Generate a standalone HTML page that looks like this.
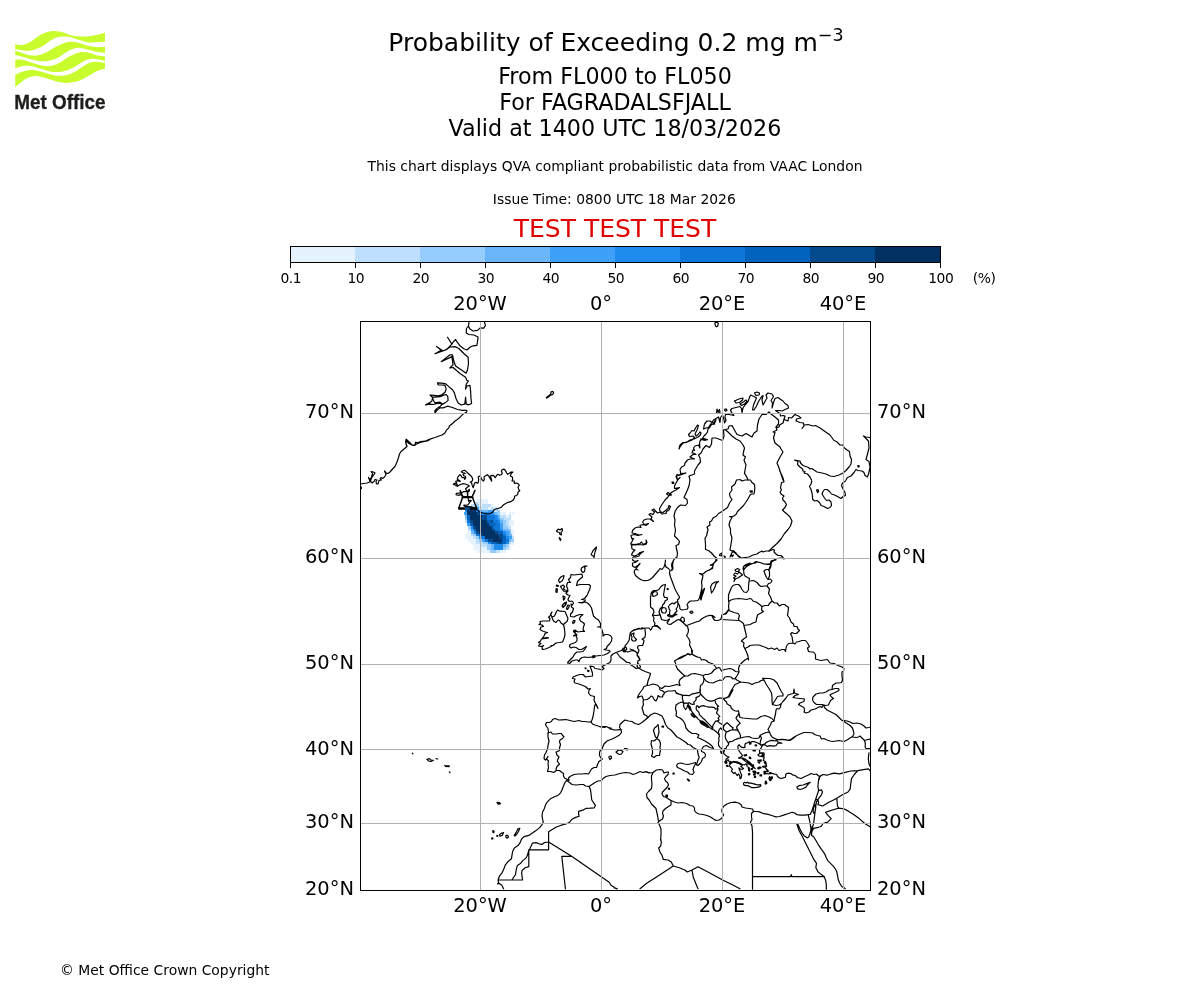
<!DOCTYPE html>
<html lang="en">
<head>
<meta charset="utf-8">
<title>Probability of Exceeding 0.2 mg m-3</title>
<style>
html,body{margin:0;padding:0;background:#fff;}
body{width:1200px;height:1000px;overflow:hidden;position:relative;}
svg{position:absolute;left:0;top:0;display:block;}
text{font-family:"DejaVu Sans","Liberation Sans",sans-serif;fill:#000;}
.t18{font-size:25px;}
.t15{font-size:22.22px;}
.t14{font-size:19.44px;}
.t10{font-size:13.89px;}
.mid{text-anchor:middle;}
.end{text-anchor:end;}
.grid line{stroke:#b0b0b0;stroke-width:1;shape-rendering:crispEdges;}
.coast path{fill:none;stroke:#000;stroke-width:1.2;stroke-linejoin:round;stroke-linecap:round;}
.border path{fill:none;stroke:#000;stroke-width:1.2;stroke-linejoin:round;stroke-linecap:round;}
</style>
</head>
<body>
<svg id="chart" width="1200" height="1000" viewBox="0 0 1200 1000">
<rect x="0" y="0" width="1200" height="1000" fill="#ffffff"/>

<!-- LOGO -->
<g id="logo">
<g fill="#c8fc2c">
<path d="M15.2,44.3C16.4,44.4,19.9,45.4,22.5,45.0C25.1,44.6,28.1,43.2,30.8,41.7C33.6,40.1,36.4,37.4,39.2,35.8C41.9,34.2,44.9,32.9,47.5,32.1C50.1,31.3,52.4,30.9,55.0,31.0C57.6,31.1,60.6,31.8,63.3,32.5C66.1,33.2,68.7,34.8,71.7,35.4C74.6,36.1,77.9,36.4,80.8,36.5C83.8,36.6,86.4,36.5,89.2,36.2C91.9,36.0,94.9,35.4,97.5,34.8C100.1,34.2,103.8,33.0,105.0,32.7L105.0,41.7C103.8,41.7,100.1,41.9,97.5,42.1C94.9,42.2,91.9,42.8,89.2,42.5C86.4,42.2,83.8,41.2,80.8,40.4C77.9,39.6,74.4,38.2,71.7,37.5C68.9,36.8,66.7,36.5,64.2,36.5C61.7,36.5,59.0,36.8,56.7,37.5C54.3,38.2,52.2,39.4,50.0,40.8C47.8,42.2,45.8,44.4,43.3,45.8C40.8,47.3,37.8,48.7,35.0,49.6C32.2,50.4,30.0,50.9,26.7,50.8C23.4,50.8,17.1,49.6,15.2,49.3Z"/>
<path d="M15.2,50.7C16.4,51.0,19.9,52.1,22.5,52.9C25.1,53.7,28.1,55.1,30.8,55.4C33.6,55.8,36.4,55.6,39.2,55.0C41.9,54.4,44.7,53.1,47.5,51.7C50.3,50.3,53.1,48.1,55.8,46.7C58.6,45.2,61.5,43.8,64.2,42.9C66.8,42.1,69.2,41.7,71.7,41.7C74.2,41.7,76.5,42.3,79.2,42.9C81.8,43.5,84.7,44.7,87.5,45.4C90.3,46.1,92.9,46.8,95.8,47.1C98.8,47.3,103.5,46.9,105.0,46.8L105.0,52.9C103.8,52.8,100.1,52.6,97.5,52.1C94.9,51.6,91.7,50.6,89.2,50.0C86.7,49.4,84.6,48.7,82.5,48.3C80.4,48.0,78.8,47.6,76.7,47.9C74.6,48.2,72.2,49.0,70.0,50.0C67.8,51.0,65.6,52.8,63.3,54.2C61.1,55.6,59.2,57.2,56.7,58.3C54.2,59.4,51.1,60.3,48.3,60.8C45.6,61.3,42.8,61.5,40.0,61.2C37.2,61.0,34.4,60.3,31.7,59.6C28.9,58.9,26.1,57.8,23.3,57.1C20.6,56.3,16.5,55.3,15.2,55.0Z"/>
<path d="M15.2,60.0C16.1,59.9,18.9,59.4,20.8,59.6C22.8,59.7,24.3,60.1,26.7,60.8C29.0,61.5,32.2,62.9,35.0,63.8C37.8,64.6,40.6,65.5,43.3,65.8C46.1,66.2,48.9,66.4,51.7,65.8C54.4,65.3,57.2,64.0,60.0,62.5C62.8,61.0,65.6,58.6,68.3,57.1C71.1,55.6,74.2,54.2,76.7,53.3C79.2,52.5,81.1,52.2,83.3,52.1C85.6,52.0,87.6,52.4,90.0,52.9C92.4,53.5,95.0,54.9,97.5,55.4C100.0,56.0,103.8,56.1,105.0,56.2L105.0,61.0C103.9,60.8,100.3,60.0,98.3,59.6C96.4,59.2,95.1,58.8,93.3,58.8C91.5,58.8,89.6,58.9,87.5,59.6C85.4,60.3,83.2,61.6,80.8,62.9C78.5,64.2,75.8,66.2,73.3,67.5C70.8,68.8,68.5,70.1,65.8,70.8C63.2,71.6,60.3,72.0,57.5,72.1C54.7,72.2,51.9,71.8,49.2,71.2C46.4,70.7,43.6,69.6,40.8,68.8C38.1,67.9,35.3,66.7,32.5,66.2C29.7,65.8,27.1,65.5,24.2,65.8C21.3,66.2,16.7,67.9,15.2,68.3Z"/>
<path d="M15.2,75.0C16.0,74.6,18.1,73.3,20.0,72.5C21.9,71.7,24.4,70.8,26.7,70.4C28.9,70.0,30.8,69.8,33.3,70.0C35.8,70.2,38.9,71.0,41.7,71.7C44.4,72.4,47.2,73.5,50.0,74.2C52.8,74.9,55.6,75.7,58.3,75.8C61.1,76.0,63.9,75.7,66.7,75.0C69.4,74.3,72.4,73.1,75.0,71.7C77.6,70.3,80.1,68.1,82.5,66.7C84.9,65.2,86.9,63.8,89.2,62.9C91.4,62.1,93.2,61.7,95.8,61.7C98.5,61.7,103.5,62.7,105.0,62.9L105.0,68.8C103.8,69.1,100.0,69.8,97.5,70.8C95.0,71.9,92.5,73.6,90.0,75.0C87.5,76.4,85.1,78.0,82.5,79.2C79.9,80.3,76.9,81.5,74.2,82.1C71.4,82.7,68.6,83.0,65.8,82.9C63.1,82.8,60.3,82.3,57.5,81.7C54.7,81.0,51.9,80.0,49.2,79.2C46.4,78.3,43.5,77.2,40.8,76.7C38.2,76.2,35.7,76.0,33.3,76.2C31.0,76.5,28.8,77.3,26.7,78.3C24.6,79.4,22.8,81.0,20.8,82.5C18.9,84.0,16.1,86.3,15.2,87.1Z"/>
</g>
<text x="14.2" y="108.8" textLength="91.3" stroke="#1d1d1b" stroke-width="0.35" lengthAdjust="spacingAndGlyphs" style="font-family:'Liberation Sans',sans-serif;font-weight:bold;font-size:20.8px;fill:#1d1d1b">Met Office</text>
</g>

<!-- TITLES -->
<g id="titles">
<text class="t18 mid" x="616" y="51">Probability of Exceeding 0.2 mg m<tspan dy="-10.5" font-size="17.5px">−3</tspan></text>
<text class="t15 mid" x="615" y="83.6">From FL000 to FL050</text>
<text class="t15 mid" x="615" y="109.5">For FAGRADALSFJALL</text>
<text class="t15 mid" x="615" y="135.8">Valid at 1400 UTC 18/03/2026</text>
<text class="t10 mid" x="615" y="171">This chart displays QVA compliant probabilistic data from VAAC London</text>
<text class="t10 mid" x="614.3" y="204">Issue Time: 0800 UTC 18 Mar 2026</text>
<text class="t18 mid" x="615" y="237" style="fill:#e00000">TEST TEST TEST</text>
</g>

<!-- COLORBAR -->
<g id="colorbar" shape-rendering="crispEdges">
<rect x="290" y="246" width="65" height="16" fill="#e6f3ff"/>
<rect x="355" y="246" width="65" height="16" fill="#bfe0fd"/>
<rect x="420" y="246" width="65" height="16" fill="#96ccfe"/>
<rect x="485" y="246" width="65" height="16" fill="#6bb6fb"/>
<rect x="550" y="246" width="65" height="16" fill="#3fa0fa"/>
<rect x="615" y="246" width="65" height="16" fill="#1e8bee"/>
<rect x="680" y="246" width="65" height="16" fill="#0d76d8"/>
<rect x="745" y="246" width="65" height="16" fill="#0263be"/>
<rect x="810" y="246" width="65" height="16" fill="#024a8c"/>
<rect x="875" y="246" width="65" height="16" fill="#023163"/>
<rect x="290.5" y="246.5" width="650" height="16" fill="none" stroke="#000" stroke-width="1"/>
<g stroke="#000" stroke-width="1">
<line x1="290.5" y1="263" x2="290.5" y2="268"/>
<line x1="355.5" y1="263" x2="355.5" y2="268"/>
<line x1="420.5" y1="263" x2="420.5" y2="268"/>
<line x1="485.5" y1="263" x2="485.5" y2="268"/>
<line x1="550.5" y1="263" x2="550.5" y2="268"/>
<line x1="615.5" y1="263" x2="615.5" y2="268"/>
<line x1="680.5" y1="263" x2="680.5" y2="268"/>
<line x1="745.5" y1="263" x2="745.5" y2="268"/>
<line x1="810.5" y1="263" x2="810.5" y2="268"/>
<line x1="875.5" y1="263" x2="875.5" y2="268"/>
<line x1="940.5" y1="263" x2="940.5" y2="268"/>
</g>
</g>
<g id="cblabels" style="letter-spacing:-0.5px">
<text class="t10 mid" x="290.8" y="283">0.1</text>
<text class="t10 mid" x="355.8" y="283">10</text>
<text class="t10 mid" x="420.8" y="283">20</text>
<text class="t10 mid" x="485.8" y="283">30</text>
<text class="t10 mid" x="550.8" y="283">40</text>
<text class="t10 mid" x="615.8" y="283">50</text>
<text class="t10 mid" x="680.8" y="283">60</text>
<text class="t10 mid" x="745.8" y="283">70</text>
<text class="t10 mid" x="810.8" y="283">80</text>
<text class="t10 mid" x="875.8" y="283">90</text>
<text class="t10 mid" x="940.8" y="283">100</text>
<text class="t10" x="972.8" y="283">(%)</text>
</g>

<!-- MAP -->
<g id="map">
<clipPath id="mapclip"><rect x="360.5" y="321.5" width="510" height="569"/></clipPath>
<rect x="360" y="321" width="511" height="570" fill="#fff"/>
<g id="plume" shape-rendering="crispEdges"><rect x="476.10" y="499.10" width="11.75" height="2.75" fill="#e6f3ff"/><rect x="476.10" y="501.80" width="3.05" height="2.69" fill="#bfe0fd"/><rect x="479.10" y="501.80" width="5.75" height="2.69" fill="#e6f3ff"/><rect x="484.80" y="501.80" width="3.05" height="2.69" fill="#e6f3ff"/><rect x="470.70" y="504.44" width="5.45" height="2.69" fill="#bfe0fd"/><rect x="476.10" y="504.44" width="3.05" height="2.69" fill="#96ccfe"/><rect x="479.10" y="504.44" width="2.75" height="2.69" fill="#e6f3ff"/><rect x="481.80" y="504.44" width="9.05" height="2.69" fill="#bfe0fd"/><rect x="490.80" y="504.44" width="1.85" height="2.69" fill="#e6f3ff"/><rect x="465.00" y="507.08" width="11.15" height="2.75" fill="#024a8c"/><rect x="476.10" y="507.08" width="3.05" height="2.75" fill="#3fa0fa"/><rect x="479.10" y="507.08" width="2.75" height="2.75" fill="#bfe0fd"/><rect x="481.80" y="507.08" width="6.05" height="2.75" fill="#bfe0fd"/><rect x="487.80" y="507.08" width="3.05" height="2.75" fill="#e6f3ff"/><rect x="490.80" y="507.08" width="6.05" height="2.75" fill="#bfe0fd"/><rect x="496.80" y="507.08" width="2.45" height="2.75" fill="#e6f3ff"/><rect x="465.00" y="509.78" width="1.85" height="2.69" fill="#1e8bee"/><rect x="466.80" y="509.78" width="9.65" height="2.69" fill="#023163"/><rect x="476.40" y="509.78" width="2.75" height="2.69" fill="#0d76d8"/><rect x="479.10" y="509.78" width="2.75" height="2.69" fill="#3fa0fa"/><rect x="481.80" y="509.78" width="6.05" height="2.69" fill="#6bb6fb"/><rect x="487.80" y="509.78" width="5.45" height="2.69" fill="#3fa0fa"/><rect x="493.20" y="509.78" width="3.65" height="2.69" fill="#bfe0fd"/><rect x="496.80" y="509.78" width="3.05" height="2.69" fill="#96ccfe"/><rect x="464.40" y="512.42" width="2.45" height="2.75" fill="#3fa0fa"/><rect x="466.80" y="512.42" width="10.25" height="2.75" fill="#023163"/><rect x="477.00" y="512.42" width="3.05" height="2.75" fill="#024a8c"/><rect x="480.00" y="512.42" width="1.85" height="2.75" fill="#0d76d8"/><rect x="481.80" y="512.42" width="12.05" height="2.75" fill="#1e8bee"/><rect x="493.80" y="512.42" width="3.05" height="2.75" fill="#6bb6fb"/><rect x="496.80" y="512.42" width="3.05" height="2.75" fill="#96ccfe"/><rect x="499.80" y="512.42" width="6.05" height="2.75" fill="#e6f3ff"/><rect x="508.80" y="512.42" width="1.85" height="2.75" fill="#e6f3ff"/><rect x="511.80" y="512.42" width="2.15" height="2.75" fill="#e6f3ff"/><rect x="465.00" y="515.12" width="2.15" height="2.69" fill="#6bb6fb"/><rect x="467.10" y="515.12" width="2.75" height="2.69" fill="#0263be"/><rect x="469.80" y="515.12" width="12.05" height="2.69" fill="#023163"/><rect x="481.80" y="515.12" width="5.45" height="2.69" fill="#024a8c"/><rect x="487.20" y="515.12" width="7.85" height="2.69" fill="#0d76d8"/><rect x="495.00" y="515.12" width="3.05" height="2.69" fill="#1e8bee"/><rect x="498.00" y="515.12" width="2.45" height="2.69" fill="#6bb6fb"/><rect x="500.40" y="515.12" width="5.45" height="2.69" fill="#bfe0fd"/><rect x="505.80" y="515.12" width="3.05" height="2.69" fill="#e6f3ff"/><rect x="508.80" y="515.12" width="2.45" height="2.69" fill="#bfe0fd"/><rect x="465.00" y="517.76" width="2.15" height="2.75" fill="#96ccfe"/><rect x="467.10" y="517.76" width="3.05" height="2.75" fill="#0263be"/><rect x="470.10" y="517.76" width="11.75" height="2.75" fill="#023163"/><rect x="481.80" y="517.76" width="5.45" height="2.75" fill="#024a8c"/><rect x="487.20" y="517.76" width="7.85" height="2.75" fill="#0d76d8"/><rect x="495.00" y="517.76" width="3.05" height="2.75" fill="#1e8bee"/><rect x="498.00" y="517.76" width="2.45" height="2.75" fill="#3fa0fa"/><rect x="500.40" y="517.76" width="3.65" height="2.75" fill="#96ccfe"/><rect x="504.00" y="517.76" width="7.25" height="2.75" fill="#bfe0fd"/><rect x="465.00" y="520.46" width="2.45" height="2.69" fill="#bfe0fd"/><rect x="467.40" y="520.46" width="3.05" height="2.69" fill="#0d76d8"/><rect x="470.40" y="520.46" width="2.75" height="2.69" fill="#024a8c"/><rect x="473.10" y="520.46" width="14.15" height="2.69" fill="#023163"/><rect x="487.20" y="520.46" width="3.65" height="2.69" fill="#0263be"/><rect x="490.80" y="520.46" width="2.45" height="2.69" fill="#024a8c"/><rect x="493.20" y="520.46" width="4.85" height="2.69" fill="#0d76d8"/><rect x="498.00" y="520.46" width="2.45" height="2.69" fill="#1e8bee"/><rect x="500.40" y="520.46" width="2.45" height="2.69" fill="#6bb6fb"/><rect x="502.80" y="520.46" width="3.05" height="2.69" fill="#96ccfe"/><rect x="505.80" y="520.46" width="3.05" height="2.69" fill="#bfe0fd"/><rect x="508.80" y="520.46" width="4.85" height="2.69" fill="#e6f3ff"/><rect x="467.40" y="523.10" width="3.05" height="2.75" fill="#3fa0fa"/><rect x="470.40" y="523.10" width="3.05" height="2.75" fill="#0263be"/><rect x="473.40" y="523.10" width="15.65" height="2.75" fill="#023163"/><rect x="489.00" y="523.10" width="6.05" height="2.75" fill="#0263be"/><rect x="495.00" y="523.10" width="4.85" height="2.75" fill="#0d76d8"/><rect x="499.80" y="523.10" width="3.05" height="2.75" fill="#3fa0fa"/><rect x="502.80" y="523.10" width="3.05" height="2.75" fill="#96ccfe"/><rect x="505.80" y="523.10" width="3.05" height="2.75" fill="#bfe0fd"/><rect x="508.80" y="523.10" width="4.85" height="2.75" fill="#e6f3ff"/><rect x="468.00" y="525.80" width="3.05" height="2.75" fill="#96ccfe"/><rect x="471.00" y="525.80" width="2.45" height="2.75" fill="#1e8bee"/><rect x="473.40" y="525.80" width="3.05" height="2.75" fill="#024a8c"/><rect x="476.40" y="525.80" width="14.45" height="2.75" fill="#023163"/><rect x="490.80" y="525.80" width="2.45" height="2.75" fill="#024a8c"/><rect x="493.20" y="525.80" width="7.25" height="2.75" fill="#0d76d8"/><rect x="500.40" y="525.80" width="3.05" height="2.75" fill="#3fa0fa"/><rect x="503.40" y="525.80" width="4.85" height="2.75" fill="#96ccfe"/><rect x="508.20" y="525.80" width="3.05" height="2.75" fill="#bfe0fd"/><rect x="468.00" y="528.50" width="3.05" height="2.69" fill="#bfe0fd"/><rect x="471.00" y="528.50" width="3.05" height="2.69" fill="#3fa0fa"/><rect x="474.00" y="528.50" width="2.45" height="2.69" fill="#0263be"/><rect x="476.40" y="528.50" width="15.65" height="2.69" fill="#023163"/><rect x="492.00" y="528.50" width="3.05" height="2.69" fill="#024a8c"/><rect x="495.00" y="528.50" width="5.45" height="2.69" fill="#0d76d8"/><rect x="500.40" y="528.50" width="3.05" height="2.69" fill="#1e8bee"/><rect x="503.40" y="528.50" width="5.45" height="2.69" fill="#6bb6fb"/><rect x="508.80" y="528.50" width="2.45" height="2.69" fill="#96ccfe"/><rect x="511.20" y="528.50" width="2.45" height="2.69" fill="#e6f3ff"/><rect x="467.40" y="531.14" width="3.65" height="2.69" fill="#e6f3ff"/><rect x="471.00" y="531.14" width="3.05" height="2.69" fill="#6bb6fb"/><rect x="474.00" y="531.14" width="2.45" height="2.69" fill="#1e8bee"/><rect x="476.40" y="531.14" width="3.05" height="2.69" fill="#024a8c"/><rect x="479.40" y="531.14" width="15.65" height="2.69" fill="#023163"/><rect x="495.00" y="531.14" width="3.05" height="2.69" fill="#024a8c"/><rect x="498.00" y="531.14" width="4.85" height="2.69" fill="#0263be"/><rect x="502.80" y="531.14" width="3.05" height="2.69" fill="#1e8bee"/><rect x="505.80" y="531.14" width="3.05" height="2.69" fill="#3fa0fa"/><rect x="508.80" y="531.14" width="2.45" height="2.69" fill="#6bb6fb"/><rect x="511.20" y="531.14" width="2.45" height="2.69" fill="#e6f3ff"/><rect x="465.00" y="533.78" width="6.05" height="2.75" fill="#e6f3ff"/><rect x="471.00" y="533.78" width="2.45" height="2.75" fill="#bfe0fd"/><rect x="473.40" y="533.78" width="3.05" height="2.75" fill="#96ccfe"/><rect x="476.40" y="533.78" width="3.05" height="2.75" fill="#0d76d8"/><rect x="479.40" y="533.78" width="2.45" height="2.75" fill="#0263be"/><rect x="481.80" y="533.78" width="16.25" height="2.75" fill="#023163"/><rect x="498.00" y="533.78" width="5.45" height="2.75" fill="#024a8c"/><rect x="503.40" y="533.78" width="2.45" height="2.75" fill="#0d76d8"/><rect x="505.80" y="533.78" width="3.05" height="2.75" fill="#3fa0fa"/><rect x="508.80" y="533.78" width="3.05" height="2.75" fill="#6bb6fb"/><rect x="511.80" y="533.78" width="1.85" height="2.75" fill="#e6f3ff"/><rect x="465.00" y="536.48" width="8.45" height="2.69" fill="#e6f3ff"/><rect x="473.40" y="536.48" width="3.05" height="2.69" fill="#bfe0fd"/><rect x="476.40" y="536.48" width="3.05" height="2.69" fill="#96ccfe"/><rect x="479.40" y="536.48" width="3.05" height="2.69" fill="#1e8bee"/><rect x="482.40" y="536.48" width="2.45" height="2.69" fill="#0d76d8"/><rect x="484.80" y="536.48" width="14.45" height="2.69" fill="#023163"/><rect x="499.20" y="536.48" width="4.25" height="2.69" fill="#024a8c"/><rect x="503.40" y="536.48" width="3.05" height="2.69" fill="#0263be"/><rect x="506.40" y="536.48" width="2.45" height="2.69" fill="#1e8bee"/><rect x="508.80" y="536.48" width="3.05" height="2.69" fill="#3fa0fa"/><rect x="511.80" y="536.48" width="2.15" height="2.69" fill="#bfe0fd"/><rect x="468.00" y="539.12" width="8.45" height="2.75" fill="#e6f3ff"/><rect x="476.40" y="539.12" width="3.05" height="2.75" fill="#bfe0fd"/><rect x="479.40" y="539.12" width="3.05" height="2.75" fill="#96ccfe"/><rect x="482.40" y="539.12" width="3.05" height="2.75" fill="#3fa0fa"/><rect x="485.40" y="539.12" width="3.05" height="2.75" fill="#0d76d8"/><rect x="488.40" y="539.12" width="4.85" height="2.75" fill="#024a8c"/><rect x="493.20" y="539.12" width="9.05" height="2.75" fill="#023163"/><rect x="502.20" y="539.12" width="3.65" height="2.75" fill="#0263be"/><rect x="505.80" y="539.12" width="3.05" height="2.75" fill="#0d76d8"/><rect x="508.80" y="539.12" width="2.45" height="2.75" fill="#6bb6fb"/><rect x="511.20" y="539.12" width="2.75" height="2.75" fill="#96ccfe"/><rect x="471.00" y="541.82" width="5.45" height="2.69" fill="#e6f3ff"/><rect x="476.40" y="541.82" width="6.65" height="2.69" fill="#bfe0fd"/><rect x="483.00" y="541.82" width="5.45" height="2.69" fill="#96ccfe"/><rect x="488.40" y="541.82" width="2.45" height="2.69" fill="#1e8bee"/><rect x="490.80" y="541.82" width="6.65" height="2.69" fill="#0263be"/><rect x="497.40" y="541.82" width="4.85" height="2.69" fill="#024a8c"/><rect x="502.20" y="541.82" width="3.65" height="2.69" fill="#0263be"/><rect x="505.80" y="541.82" width="3.05" height="2.69" fill="#1e8bee"/><rect x="508.80" y="541.82" width="2.45" height="2.69" fill="#bfe0fd"/><rect x="511.20" y="541.82" width="2.45" height="2.69" fill="#e6f3ff"/><rect x="474.00" y="544.46" width="7.25" height="2.75" fill="#e6f3ff"/><rect x="481.20" y="544.46" width="6.05" height="2.75" fill="#bfe0fd"/><rect x="487.20" y="544.46" width="3.65" height="2.75" fill="#96ccfe"/><rect x="490.80" y="544.46" width="3.65" height="2.75" fill="#6bb6fb"/><rect x="494.40" y="544.46" width="8.45" height="2.75" fill="#1e8bee"/><rect x="502.80" y="544.46" width="3.05" height="2.75" fill="#6bb6fb"/><rect x="505.80" y="544.46" width="3.05" height="2.75" fill="#96ccfe"/><rect x="508.80" y="544.46" width="1.85" height="2.75" fill="#e6f3ff"/><rect x="474.00" y="547.16" width="13.25" height="2.69" fill="#e6f3ff"/><rect x="487.20" y="547.16" width="3.65" height="2.69" fill="#96ccfe"/><rect x="490.80" y="547.16" width="3.05" height="2.69" fill="#6bb6fb"/><rect x="493.80" y="547.16" width="9.05" height="2.69" fill="#1e8bee"/><rect x="502.80" y="547.16" width="3.05" height="2.69" fill="#96ccfe"/><rect x="505.80" y="547.16" width="3.05" height="2.69" fill="#bfe0fd"/><rect x="508.80" y="547.16" width="1.85" height="2.69" fill="#e6f3ff"/><rect x="477.00" y="549.80" width="13.25" height="2.75" fill="#e6f3ff"/><rect x="490.20" y="549.80" width="6.05" height="2.75" fill="#96ccfe"/><rect x="496.20" y="549.80" width="3.65" height="2.75" fill="#bfe0fd"/><rect x="499.80" y="549.80" width="6.05" height="2.75" fill="#e6f3ff"/></g>
<g class="coast" id="coast" clip-path="url(#mapclip)"><path d="M469.0,322.2L468.5,326.0L466.5,328.5L466.2,332.9L468.8,334.5L473.8,335.0L478.1,337.0L477.5,341.6L476.9,345.4L473.1,345.8L470.0,347.2L466.9,350.0L463.8,348.8L460.0,345.8L456.9,341.6L455.6,339.5L453.1,342.2L451.9,344.1L447.5,337.2L451.9,344.1L449.4,346.6L446.9,349.1L443.1,351.0L436.5,346.4L441.2,350.4L435.0,353.8L440.0,352.0L446.2,349.8L450.0,347.0L455.0,346.6L458.8,348.5L463.8,353.5L468.1,357.2L468.5,363.5L467.5,369.8L466.2,373.2L460.0,369.1L455.6,366.0L453.8,361.0L452.5,354.8L450.0,354.8L441.2,361.6L451.9,356.6L453.1,364.8L449.8,367.9L453.1,367.5L460.0,373.5L465.6,377.2L466.9,380.4L468.5,381.0L466.2,384.1L465.6,389.1L466.9,386.0L470.0,385.4L470.6,391.0L471.0,398.5L471.6,403.5L468.8,404.8L466.2,404.1L465.6,397.2L464.8,404.1L461.2,405.0L458.1,402.9L456.0,398.5L454.4,392.9L452.5,389.8L448.8,386.6L445.6,383.8L441.9,383.1L437.5,382.9L438.1,384.8L441.9,385.0L445.0,385.4L446.2,389.1L445.0,392.2L441.9,394.8L438.1,395.8L433.8,395.4L430.0,395.0L432.5,397.2L435.0,397.2L440.0,396.6L443.1,395.4L446.2,394.5L447.8,396.6L448.1,400.4L445.0,402.9L441.2,405.0L441.9,403.5L437.5,403.5L433.1,404.5L430.0,404.1L425.6,404.8L429.4,402.9L431.9,401.0L432.5,397.9L433.8,401.0L435.0,402.9L440.0,402.2L442.5,404.1L440.0,406.6L436.9,408.5L434.8,411.0L435.0,412.9L436.9,410.4L440.0,407.9L443.1,407.9L447.5,406.2L452.5,407.5L457.5,409.5L462.5,410.4L466.9,410.4L466.5,412.2L463.1,414.1L460.0,417.2L456.2,420.4L455.0,421.0L452.5,423.5L449.4,426.0L448.8,427.9L446.2,430.4L445.0,432.9L441.9,435.0L435.0,437.5L430.0,439.1L425.0,441.2L420.6,441.6L417.5,442.9L415.6,442.2L415.0,444.8L412.5,445.4L409.4,442.2L406.2,439.1L405.6,441.6L406.5,446.0 M468.5,326.2L470.0,329.1L473.1,331.0L477.5,330.4L480.2,327.9L483.8,328.2L485.4,325.4L484.5,322.2 M429.0,440.5L425.0,441.5L422.0,442.0L419.0,443.0L416.5,444.0L414.5,445.5L412.0,445.0L409.0,443.5L407.0,441.5L405.8,440.0L406.0,443.0L407.0,446.5L404.0,449.0L401.0,451.5L399.5,454.0L398.5,457.5L397.0,462.0L395.0,466.5L392.5,469.0L390.0,472.0L388.0,473.5L386.2,473.0L384.5,471.0L386.0,474.5L384.5,477.0L382.5,478.5L381.0,477.5L380.0,479.0L381.5,480.0L379.0,480.5L378.0,484.0L376.5,484.0L376.0,481.5L377.0,480.0L375.0,479.5L374.0,481.5L372.0,483.0L370.5,481.0L371.5,478.0L373.0,476.0L375.0,473.0L373.5,472.0L371.0,471.5L372.5,473.5L371.5,477.0L370.0,479.5L368.5,477.5L369.5,480.0L370.0,482.0L367.0,483.0L363.5,483.5L360.5,484.0 M360.0,486.5L361.2,487.0L361.5,488.5L360.0,489.0 M464.3,470.3L466.0,471.3L468.0,473.3L470.0,475.0L471.7,476.7L472.7,479.0L472.3,481.0L471.0,481.7L470.3,482.0L471.7,483.3L472.3,485.7L473.3,487.7L474.0,485.0L474.7,483.0L476.0,482.3L477.3,483.3L478.3,482.3L478.7,479.3L478.3,477.0L479.3,476.1L480.7,477.0L481.7,479.3L483.3,481.0L484.3,479.7L484.0,477.0L485.3,475.9L487.3,474.7L488.7,476.0L490.0,478.3L491.7,481.3L491.3,478.7L490.3,476.3L491.7,475.3L493.7,475.7L495.3,477.7L496.7,475.3L498.0,474.3L499.7,475.3L501.3,474.7L502.3,473.3L501.3,471.0L502.3,469.7L504.0,469.2L505.3,470.3L506.7,473.0L507.7,474.3L509.3,473.3L511.0,472.1L513.0,472.0L511.3,473.3L510.3,476.0L512.3,477.0L512.7,479.0L512.0,481.0L514.3,481.0L514.3,483.3L516.7,483.0L518.7,484.3L519.3,485.3L518.0,487.0L518.7,489.3L519.7,490.7L518.0,492.3L517.7,494.3L516.3,495.7L514.7,496.0L514.3,498.3L513.0,500.3L510.7,501.7L508.0,502.3L505.3,503.7L503.3,505.0L501.3,507.3L498.7,508.3L496.0,509.0L494.0,509.7L493.0,511.7L490.7,513.3L488.0,514.0L485.0,513.7L482.0,512.8L479.3,511.7L477.3,509.7L474.7,508.0L471.3,506.8L468.0,506.5L464.7,506.3L463.7,505.3L464.7,505.0L466.7,505.3L468.0,504.7L470.0,502.0L471.3,500.7L470.0,500.3L468.7,501.3L468.3,499.3L468.0,497.7L466.7,496.7L464.0,496.3L462.3,496.0L461.3,494.7L458.0,495.3L456.1,494.7L456.3,493.3L459.3,493.0L461.0,493.2L463.3,491.7L468.0,491.3L469.2,489.3L469.5,490.7L468.0,491.7L466.0,490.0L465.5,489.0L467.3,487.3L469.3,486.0L468.0,485.0L465.3,484.0L462.7,483.7L460.0,484.7L457.3,486.3L456.0,485.7L457.3,484.7L454.7,485.0L453.3,484.3L454.7,483.3L456.7,483.3L455.7,481.3L457.3,480.7L460.3,481.3L458.7,480.0L457.3,479.3L457.7,477.3L458.7,476.0L460.0,474.7L461.3,476.0L462.3,477.7L464.3,477.7L464.7,479.3L465.7,478.0L465.3,476.3L463.7,475.7L463.0,474.3L465.3,473.3L463.3,472.7L461.3,472.0L462.3,471.0L464.3,470.3 M677.5,480.0L676.0,476.5L677.5,474.5L680.0,475.0L686.0,473.0L680.5,474.5L680.5,472.0L680.0,469.5L681.5,467.0L684.5,465.5L685.0,463.0L687.5,460.0L690.0,459.0L694.5,459.0L690.0,457.0L693.0,454.5L696.0,454.5L693.5,453.0L692.0,453.0L693.0,450.0L694.5,450.5L693.5,448.0L695.0,446.0L698.5,445.0L700.0,448.0L699.5,444.0L700.0,441.0L702.0,439.0L707.0,439.7L702.5,438.3L704.0,436.0L706.0,434.0L707.5,432.0L708.0,429.0L710.0,427.0L711.5,424.5L714.5,424.0L712.0,422.5L713.5,420.0L716.0,418.5L718.5,417.0L720.0,422.5L720.5,417.5L722.5,415.0L724.0,419.5L724.5,423.0L726.0,420.5L725.0,417.0L725.5,414.5L729.0,414.5L734.0,415.5L731.5,412.5L730.5,410.0L732.0,408.5L736.0,407.5L740.0,406.5L741.5,408.5L742.0,412.5L743.0,408.0L745.0,405.0L748.0,401.5L750.5,395.0L754.0,396.5L756.5,398.0L755.0,401.5L753.5,405.0L752.5,410.0L754.0,410.0L756.5,406.0L758.5,401.5L761.0,397.5L763.0,395.5L762.0,400.0L763.0,405.0L765.0,401.5L767.0,398.0L766.0,395.0L768.0,393.0L772.0,394.0L773.5,396.5L771.0,400.5L772.5,403.0L772.0,408.0L773.5,402.5L775.0,398.5L778.0,397.5L780.0,399.0 M679.0,449.0L680.5,446.0L683.0,443.0L686.5,442.5L690.0,440.0L694.0,439.0L698.0,437.0L700.0,435.5L701.0,433.0L700.0,432.0L698.0,434.5L696.0,436.0L695.0,434.0L697.0,430.0L698.5,425.5L697.5,425.0L695.5,428.0L694.0,431.0L692.0,430.5L690.0,433.0L688.5,434.5L689.5,436.5L693.0,436.0L694.5,437.5L692.0,440.0L688.5,441.5L685.0,442.5L683.0,442.5L680.0,445.0L679.0,449.0 M703.5,429.0L704.5,424.0L707.0,421.0L710.0,421.0L712.0,422.5L710.0,425.0L708.5,427.5L706.0,428.0L703.5,429.0 M713.0,424.0L714.5,421.5L716.0,420.0L714.0,424.5 M716.5,413.0L717.0,409.0L718.0,412.0L719.5,409.5L720.0,412.5L717.5,413.5 M725.0,409.0L726.5,409.2L727.0,410.5L725.5,411.2L724.5,410.2L725.0,409.0 M734.5,401.0L739.0,399.0L743.0,398.0L742.5,400.0L739.5,402.5L736.0,403.0L734.5,401.0 M740.0,404.0L744.0,401.5L746.0,400.0L747.0,401.5L744.5,404.0L741.5,405.5L740.0,404.0 M754.5,393.0L757.0,392.0L759.5,393.0L759.0,395.0L756.0,395.5L754.5,393.0 M700.5,439.0L704.0,438.5L707.5,439.7L704.0,440.3L700.5,439.0 M780.0,399.0L783.0,401.0L785.0,403.5L788.0,405.5L788.5,408.0L785.0,409.5L782.0,411.0L779.0,410.5L775.5,410.5L780.0,413.5L780.5,416.0L783.0,415.5L785.0,416.0L784.0,419.5L788.0,421.0L788.5,417.5L791.5,418.0L795.0,414.5L798.5,416.0L801.0,418.0L796.5,419.0L796.0,421.0L800.0,422.5L803.5,423.0L804.0,426.0L802.0,428.5L804.5,425.0L808.0,424.5L813.0,426.0L815.5,425.5L820.0,428.0L825.0,431.5L830.0,435.0L834.0,440.5L836.5,441.5L840.0,445.0L842.5,445.0L844.5,448.0L847.0,450.0L849.5,451.5L850.0,456.0L851.5,459.5L851.0,464.0L849.0,467.0L846.0,470.5L843.0,473.0L839.0,475.0L834.0,476.5L830.0,476.0L826.0,474.0L822.0,473.0L817.0,472.0L814.0,470.0L812.0,468.5L810.0,469.0L808.5,467.5L803.0,465.5L800.5,463.0L800.0,461.0L794.5,460.0L798.0,461.5L797.5,464.5L800.0,467.0L802.5,469.0L803.0,471.0L805.0,471.5L804.0,473.0L807.5,474.0L810.0,477.0L811.5,480.0 M846.0,480.0L847.5,477.5L851.0,476.0L854.0,472.5L856.0,469.5L858.0,470.5L862.0,471.0L864.0,472.5L865.0,475.5L867.5,477.0L868.5,474.0L869.5,470.0L870.0,467.0L869.0,461.5L866.0,459.5L867.5,454.0L869.0,448.0L868.5,441.0L863.5,436.0L866.0,437.0L870.0,437.5 M858.0,465.5L859.2,465.8L859.0,467.0L857.8,466.6L858.0,465.5 M677.5,480.0L680.0,477.5L678.0,479.5L676.0,483.0L674.5,486.0L674.5,488.5L679.5,487.5L676.0,490.0L673.0,491.5L670.0,493.5L671.5,495.0L669.0,495.5L666.5,494.0L668.0,492.5L670.0,494.0L668.0,497.0L665.0,500.0L662.0,504.5L659.5,508.5L660.0,511.5L661.5,514.0L666.0,513.5L666.5,511.5L669.0,510.0L670.5,506.5L669.0,505.5L668.0,508.5L665.5,510.5L663.0,512.5L661.0,512.0L657.5,513.0L655.0,510.5L654.0,509.0L652.0,510.0L654.5,512.0L653.0,514.5L650.5,513.5L649.0,514.5L652.0,517.0L651.0,519.0L653.5,521.5L650.0,519.0L647.0,519.0L644.0,520.0L642.5,522.0L644.5,524.5L648.5,523.5L646.0,525.5L642.5,524.5L640.0,525.5L641.0,527.5L638.0,527.0L635.0,528.0L632.5,530.5L632.0,533.0L635.0,533.5L639.0,535.0L642.0,534.5L638.0,535.5L634.0,534.5L631.0,535.5L632.0,539.0L633.5,538.5L632.0,541.5L630.5,544.0L635.0,544.5L640.0,543.5L641.5,542.0L643.5,544.5L647.0,542.5L646.0,540.0L646.5,544.0L643.5,545.0L640.0,544.5L635.0,545.0L631.5,545.0L632.0,549.0L635.0,550.0L632.5,552.5L631.5,555.0L635.0,556.0L638.0,554.5L640.0,552.5L643.5,551.5L640.5,553.5L639.0,556.0L636.0,557.0L633.0,557.0L632.5,560.0L635.0,561.5L638.0,560.5L635.0,562.5L632.5,563.0L632.5,566.0L635.0,567.5L638.5,565.0L640.0,563.5L637.5,566.5L636.0,569.0L638.0,570.0 M677.5,480.0L676.5,475.0L679.0,475.5L681.0,474.8L686.0,473.0L680.8,473.5 M672.0,482.0L673.5,482.2L673.8,483.5L672.4,483.5L672.0,482.0 M740.0,479.5L736.5,480.0L735.0,484.0L731.5,487.0L732.0,490.0L729.5,493.5L730.0,496.5L732.0,499.5L729.5,503.0L727.5,507.5L724.0,510.0L722.0,511.5L718.5,513.5L716.5,516.0L713.0,518.0L711.5,521.0L709.5,522.0L710.0,525.0L707.0,527.0L708.0,529.5L706.5,536.0L705.0,538.0L705.5,544.0L705.5,549.5L708.5,550.5L711.5,553.0L714.0,556.0L716.5,558.0L715.5,561.0L713.5,563.5L710.5,565.5L713.5,564.5L712.0,568.0L709.5,570.0 M740.0,509.0L737.5,511.5L736.0,514.5L733.0,516.5L729.5,516.5L732.0,517.5L730.0,521.0L729.0,525.0L730.5,529.0L730.5,533.0L732.0,538.0L731.0,544.0L730.0,550.0L732.0,551.0L735.0,553.0L738.0,555.5L740.0,557.0 M720.0,554.0L722.0,553.0L721.5,556.0L719.5,555.5L720.0,554.0 M724.0,556.0L725.2,556.6L725.0,557.8L724.0,556.0 M731.0,555.5L733.5,555.0L732.5,556.5L731.0,555.5 M740.0,479.5L742.0,481.0L745.0,480.0L748.0,480.0L750.5,480.0L751.5,482.0L754.5,484.5L754.8,488.0L754.5,491.5L754.0,494.0L751.5,494.0L750.0,495.0L748.5,498.0L746.0,502.0L743.5,505.5L740.5,508.5 M750.0,491.0L752.0,490.8L752.5,492.0L750.5,492.2L750.0,491.0 M730.0,557.0L733.0,550.5L736.0,553.0L738.0,556.0L740.0,557.5L742.0,558.0L745.0,557.5L749.0,557.0L753.0,555.0L757.0,554.0L759.0,552.5L762.0,551.0L763.0,552.0L766.0,551.0L769.0,551.0L773.0,549.5L774.5,550.0L774.0,552.0L776.0,554.0L778.0,555.5L781.0,555.5L783.0,557.5L784.0,559.0L781.0,558.0L777.0,558.5L774.0,560.0L771.0,561.0L770.5,563.5L768.5,564.0L764.0,564.0L760.0,562.5L756.0,562.0L755.5,563.0L752.0,563.5L748.5,564.0L746.0,565.5L743.5,566.5L743.0,569.0L743.5,570.0 M811.8,481.0L811.0,484.0L809.5,486.5L811.0,489.5L812.0,493.0L812.5,496.5L812.5,499.0L814.5,501.0L817.0,500.5L819.5,502.5L821.0,505.5L824.0,506.5L827.5,508.5L830.0,507.5L831.5,505.5L831.0,502.0L829.0,500.0L826.5,500.5L824.5,498.0L822.0,494.0L823.0,491.5L824.5,489.5L827.0,489.5L829.5,491.5L831.5,494.0L834.5,495.0L837.5,496.5L841.0,498.5L843.0,496.5L845.5,495.5L845.0,492.5L843.0,489.0L841.5,485.5L842.5,483.0L845.5,481.0 M816.5,490.0L818.0,489.5L818.5,491.5L817.5,492.5L816.5,490.0 M556.5,531.0L558.5,529.0L560.0,530.0L562.0,528.5L562.5,530.5L561.0,532.5L561.5,535.0L560.0,534.5L559.5,532.5L557.5,532.0L556.5,531.0 M559.5,537.5L561.0,539.5L560.5,540.5L559.2,538.5L559.5,537.5 M596.5,547.0L596.0,549.5L595.0,552.0L594.5,554.5L594.0,557.5L593.2,556.0L592.0,555.5L591.2,554.0L592.2,552.5L592.8,550.8L594.5,549.0L596.5,547.0 M581.5,568.0L583.0,567.0L584.5,566.0L587.0,566.0L584.5,567.0L585.0,569.0L584.5,571.5L583.0,572.5L581.5,571.0L581.0,569.5L581.5,568.0 M598.5,620.0L596.0,618.5L593.5,616.0L592.5,612.0L591.5,608.0L590.0,605.5L587.5,603.0L585.0,602.0L582.0,603.0L578.5,602.5L582.0,602.5L584.5,601.5L585.5,600.0L581.5,599.5L584.5,598.5L587.0,595.5L588.5,592.0L590.0,588.5L590.5,586.0L589.0,584.5L585.0,584.5L580.0,584.5L576.5,585.5L577.5,581.5L580.0,579.0L582.5,577.0L582.0,574.0L578.0,574.5L574.0,575.0L571.0,574.5L570.5,577.5L568.5,579.5L569.5,581.5L570.5,582.5L567.5,582.5L566.5,586.0L567.5,588.5L568.0,591.0L566.0,593.5L568.0,595.0L570.0,595.5L568.5,598.0L568.0,600.0L569.5,601.5L572.0,601.0L573.5,603.0L572.5,605.0L571.0,604.0L571.5,607.0L573.5,608.5L572.5,612.0L570.5,614.0L570.5,616.5L574.0,617.0L576.5,615.5L580.0,614.5L583.0,614.5L580.5,616.5L579.5,619.0L580.0,620.0 M564.0,575.5L563.5,578.5L562.0,581.0L559.5,582.5L558.5,580.5L559.5,578.5L561.5,576.5L564.0,575.5 M556.5,585.0L558.5,585.5L558.0,586.5L556.2,586.0L556.5,585.0 M556.2,588.5L557.5,589.0L557.0,592.5L555.8,592.0L556.2,588.5 M560.5,586.5L563.0,585.0L564.5,586.5L563.5,589.0L565.0,590.0L567.0,590.5L566.5,592.0L564.0,591.5L562.0,589.0L560.5,586.5 M562.5,605.0L564.5,603.0L566.5,602.0L566.0,604.5L564.0,606.5L562.5,606.0L562.5,605.0 M567.0,607.0L568.0,605.0L569.5,605.5L568.5,608.0L567.5,609.5L566.5,609.0L567.0,607.0 M563.0,596.0L565.0,597.0L564.5,599.0L563.5,600.0L563.0,596.0 M636.0,569.0L634.5,570.5L634.2,572.5L635.5,575.5L638.5,578.0L641.0,579.8L644.0,580.7L647.5,580.5L650.0,579.5 M580.0,620.0L580.5,621.0L583.0,622.5L584.5,624.0L583.5,627.0L583.0,630.0L584.5,631.5L581.0,631.5L578.0,632.0L575.5,630.5L573.5,631.5L575.0,633.0L577.0,635.0L574.5,635.0L573.5,636.0L576.0,635.5L577.0,638.0L577.0,640.5L575.5,642.5L572.5,643.5L570.0,644.5L569.5,646.5L571.0,648.0L573.5,647.0L576.0,647.5L579.0,649.5L581.5,649.5L584.0,648.0L586.5,646.5L585.0,649.0L583.0,651.5L580.0,652.0L577.0,652.0L574.5,654.0L573.0,657.0L570.5,659.5L568.0,662.0L567.5,663.0L569.5,663.5L572.0,661.0L575.0,660.0L577.5,660.0L579.0,661.5L580.0,659.0L582.0,657.5L585.0,657.0L588.0,657.5L591.0,657.0L593.5,657.5L594.0,656.0L596.0,656.0L600.0,655.5L604.0,655.0L607.5,653.5L610.0,651.5L609.5,650.5L606.0,650.0L604.0,649.5L606.5,648.5L607.0,646.5L609.5,644.0L611.5,641.0L612.0,638.0L610.5,635.5L607.5,634.5L605.0,634.5L603.0,636.0L603.0,633.5L602.0,630.0L600.5,627.0L597.5,627.0L600.5,626.5L600.5,623.5L598.5,620.0 M568.0,618.5L566.5,615.0L565.0,611.5L560.0,611.2L557.5,610.0L556.0,612.5L554.5,616.0L552.0,617.0L550.5,614.0L552.0,612.0L550.0,616.0L548.5,617.2L550.0,618.5L549.5,621.0L546.0,621.0L543.0,621.0L540.0,621.5L540.5,623.5L539.0,624.5L542.0,625.0L543.5,626.5L541.0,627.0L540.0,629.5L542.5,631.0L545.5,632.0L547.5,632.5L545.0,633.5L544.0,636.0L542.0,638.5L544.0,638.0L546.5,637.5L548.5,637.8L545.5,638.5L541.5,639.0L540.5,641.0L538.5,642.5L541.0,643.5L539.5,644.5L538.5,646.0L541.0,646.5L543.5,645.5L542.0,647.5L542.5,649.5L545.5,649.0L549.0,647.5L552.0,646.0L551.0,645.5L553.0,645.5L556.0,643.0L559.5,642.5L562.5,642.0L564.0,638.5L565.0,634.5L564.5,629.0L563.5,624.5L565.0,623.0L567.0,621.5L568.0,618.5 M573.5,620.5L575.0,620.5L574.5,622.5L573.0,623.5L572.5,622.5L573.5,620.5 M573.8,630.3L575.7,630.0L576.0,631.5L574.5,632.2L573.8,630.3 M592.5,656.0L594.5,655.5L594.8,657.2L593.0,657.8L592.5,656.0 M620.0,651.0L616.0,652.5L613.0,654.0L611.0,656.0L611.0,660.0L610.0,662.5L607.0,664.0L604.0,665.5L602.0,666.5L604.0,668.5L602.0,670.0L598.5,669.0L595.0,668.5L593.5,666.5L590.0,666.2L591.5,670.0L592.5,673.5L592.5,676.0L589.0,676.5L585.5,677.0L583.0,674.5L580.0,674.5L576.5,675.5L573.0,677.0L572.5,678.5L575.0,679.0L574.0,681.5L575.0,683.0L579.0,684.0L583.0,685.5L586.0,687.0L588.0,689.0L590.5,688.5L589.0,690.5L588.5,693.0L590.5,695.5L594.5,696.5L594.0,700.0 M585.0,668.0L586.0,668.2L585.8,669.0L585.0,668.0 M587.5,670.3L589.0,670.6L588.8,671.6L587.6,671.2L587.5,670.3 M562.0,606.0L563.5,604.0L566.0,602.5L565.0,605.5L563.0,607.5L562.0,606.0 M650.0,579.5L652.5,577.5L656.0,573.5L659.0,570.0L660.0,568.5L662.0,569.5L664.0,567.0L665.0,564.0L665.5,560.0 M665.5,560.0L665.0,564.0L666.0,567.0L668.5,568.5L670.0,570.5 M670.0,570.5L669.5,573.0L670.5,577.0L672.0,581.0L673.5,585.0L675.0,589.0L676.5,592.0L678.0,594.5L679.5,597.0L679.0,598.5L677.5,600.0L678.0,603.0L679.5,605.5L680.0,609.0L682.0,610.0L685.0,609.5L687.5,609.0L688.0,607.0L687.0,604.5L688.5,602.5L690.5,601.0L694.0,601.0L698.0,600.5L699.5,598.0L700.5,594.0L701.5,590.0L702.0,586.0L701.5,582.0L702.5,578.0L703.0,575.5L699.5,573.5L703.0,574.0L706.0,571.5L709.0,570.0L712.5,568.5L713.0,565.0L710.5,565.0L713.0,564.0L715.0,562.0L717.0,560.0 M704.5,588.5L703.5,592.0L702.0,596.0L701.0,600.0L700.5,598.0L701.5,594.0L703.0,590.0L704.5,588.5 M718.5,581.5L716.0,583.5L715.0,587.0L713.0,591.0L711.5,593.0L711.0,590.0L710.5,587.0L712.0,584.0L715.0,582.0L718.5,581.5 M690.0,611.5L692.0,611.0L693.0,612.5L691.5,613.5L690.0,612.5L690.0,611.5 M652.5,615.2L654.0,612.0L653.0,609.0L650.5,607.0L650.5,602.0L650.5,597.0L651.5,592.5L653.5,590.5L656.5,590.5L659.0,589.5L660.5,587.0L663.0,585.0L665.5,584.5L665.0,586.5L664.5,589.0L664.0,592.0L663.5,595.0L664.5,597.5L667.0,597.5L667.5,599.5L665.0,601.0L664.5,603.0L663.0,604.5L662.0,607.0L660.0,609.0L659.0,612.0L660.0,614.8 M652.5,593.0L654.5,591.5L657.0,592.0L657.5,594.5L655.0,596.0L653.0,596.5L652.5,594.5L652.5,593.0 M661.5,609.5L663.0,607.5L665.5,608.0L666.5,610.5L665.5,613.0L663.0,613.0L661.5,611.5L661.5,609.5 M668.5,606.5L670.0,604.5L672.5,603.0L674.0,604.0L675.5,602.5L677.5,601.5L678.0,604.0L677.5,607.0L676.0,609.0L677.0,611.0L675.0,613.0L674.0,614.5L672.5,616.0L670.0,615.5L669.5,613.0L670.0,610.5L669.0,608.5L668.5,606.5 M667.5,615.5L670.0,617.0L672.5,617.0L674.5,615.5L677.0,614.5L675.5,614.0L673.0,615.5L671.0,616.0L668.5,614.5L667.5,615.5 M667.2,588.5L668.2,588.7L668.0,589.7L667.0,589.3L667.2,588.5 M652.5,615.2L654.0,618.0L653.5,621.0L655.0,623.0L654.5,625.5L657.0,625.5L659.0,627.5L660.5,629.0L658.0,627.0L655.5,626.0L652.5,626.5L651.5,629.0L650.5,630.0L649.0,628.0L645.0,628.0L642.0,629.0L638.0,629.0L635.0,630.0L632.5,631.0L630.5,632.5L630.0,634.0 M632.0,634.0L634.0,633.0L633.5,636.0L635.0,638.0L636.5,639.5L635.0,641.0L633.0,641.0L631.5,639.5L632.0,637.0L631.0,635.0L632.0,634.0 M660.0,614.8L661.0,617.5L661.5,619.5L665.0,620.5L668.0,620.0L669.5,619.0L668.5,621.0L667.0,622.5L668.0,624.0L670.5,624.5L672.5,623.0L675.0,621.5L677.0,620.0L679.0,619.5L681.0,621.0L683.0,622.5L684.5,624.0L686.0,625.5L688.0,625.0L692.0,623.5L696.0,622.0L699.5,621.0L701.5,619.0L704.0,617.5L707.0,616.0L710.0,615.3L712.5,615.5L715.0,617.5L712.0,616.0L713.5,619.0L715.0,620.5L718.0,620.5L720.5,619.5L721.5,617.5L722.0,614.5L723.5,614.5L726.0,614.0L727.5,612.0L729.0,610.0L728.5,606.0L729.0,603.0L728.5,600.0L728.5,595.0L730.0,591.0L731.5,587.5L733.0,585.5L736.0,584.5L738.5,584.5L740.5,586.5L742.0,589.5L744.0,592.0L746.5,592.5L748.5,590.0L748.5,586.0L749.0,581.5L749.5,578.5 M680.5,619.0L682.0,617.0L684.0,618.0L684.5,621.0L683.0,622.5L681.5,621.0L680.5,619.0 M723.5,614.5L726.0,613.0L728.5,609.5 M734.0,581.5L735.0,579.0L733.5,578.0L736.0,576.0L733.5,575.0L735.0,573.0L737.5,574.0L739.0,572.0L741.0,573.5L742.5,575.0L740.0,576.5L738.0,578.0L736.0,578.5L734.5,580.0L734.0,581.5 M735.0,570.0L737.5,568.5L739.5,569.5L738.5,571.5L736.0,571.5L735.0,570.0 M750.0,563.0L746.0,564.5L743.5,566.5L743.5,570.0L744.0,574.0L745.0,576.0L747.5,577.5L749.5,578.5 M743.5,570.0L746.0,567.0L750.0,564.5L753.0,563.5L756.0,561.5L760.0,562.5L764.0,564.0L767.5,564.5L771.0,564.5L771.5,562.0L774.0,560.5L776.0,560.0 M622.4,649.8L621.6,650.4L623.6,648.0L626.0,647.2L626.8,649.2L624.8,650.8L623.2,651.6L625.2,651.8L624.0,650.0L625.2,645.6L627.6,642.8L629.2,640.0L629.6,636.8L630.0,634.0L631.2,632.0L633.6,630.0L636.8,629.2 M641.2,628.0L642.8,627.8 M637.6,628.6L639.6,628.3 M620.0,651.0L621.5,650.5L624.0,650.0 M647.5,718.0L650.5,715.0L654.5,713.0L658.0,714.0L662.0,716.0L664.0,720.0L665.5,724.5L668.0,728.0L671.0,730.0L674.0,733.5L677.0,737.0L680.0,738.5L683.0,740.5L686.0,742.5L688.0,744.5L690.5,745.0L693.0,747.5L696.0,749.0L697.5,750.0 M683.5,703.0L682.0,702.0L679.0,703.0L676.0,705.0L675.5,709.0L676.5,712.0L676.0,715.5L677.5,717.0L680.0,718.0L683.0,720.5L685.0,724.0L686.0,728.0L688.5,731.0L692.0,733.5L696.0,733.5L699.0,735.0L697.5,737.5L701.0,739.0L705.0,741.0L709.0,743.5L712.0,746.0L713.5,748.5L710.0,747.5L706.5,745.5L703.5,746.5L702.0,749.0L701.5,750.0 M662.0,726.2L663.5,726.2L663.5,727.2L662.0,727.0L662.0,726.2 M658.0,724.5L658.5,727.5L659.0,732.0L658.0,736.0L657.0,738.0L655.5,737.0L654.5,734.0L653.5,730.5L654.5,728.0L656.5,726.5L658.0,724.5 M652.5,750.0L652.0,747.5L651.0,744.0L651.5,740.5L654.0,741.0L657.0,738.5L659.5,740.5L660.5,744.0L660.0,747.5L660.5,750.0 M647.5,718.0L645.0,720.0L642.0,722.5L638.5,724.5L635.0,723.5L632.0,721.5L628.5,721.0L625.0,720.0L622.5,722.0L620.0,724.5L619.5,727.5L621.0,729.5L621.5,732.5L619.5,735.0L616.0,737.0L612.0,739.0L607.0,741.0L604.0,744.0L602.5,747.5L602.0,750.0 M820.0,706.5L818.0,707.5L815.0,709.0L811.0,710.0L809.0,712.0L806.0,713.0L804.0,712.0L804.5,710.5L804.0,707.5L801.0,706.0L798.5,704.5L800.0,703.0L804.0,701.5L804.5,699.0L800.0,698.5L796.0,698.0L793.0,697.5L795.0,695.5L798.5,694.5L794.5,693.0L794.0,689.0L793.5,693.5L791.0,694.0L788.0,695.0L786.0,698.0L783.0,701.5L781.0,704.0L780.5,707.0L779.0,709.0L777.0,708.5L776.0,710.0L775.5,714.0L774.5,718.0L774.0,721.0L771.5,722.0L770.5,725.0L769.0,727.5L768.0,729.5L769.5,732.0L770.5,734.5L772.0,737.0L774.5,738.5L777.5,739.5L782.0,739.5L786.0,740.0L790.0,740.5L793.0,738.5L796.0,736.0L800.0,734.0L804.0,732.5L808.0,732.5L813.0,733.0L814.5,734.5L817.5,735.5L820.0,736.0 M820.0,693.0L816.0,694.0L813.0,697.0L812.5,700.0L814.0,702.5L816.5,704.5L820.0,704.5 M797.5,777.5L801.0,778.5L805.0,776.5L808.5,775.0L811.0,773.5L814.0,774.5L816.5,774.0L818.5,776.0L820.0,776.5 M820.0,693.0L823.0,693.0L826.0,692.0L829.0,690.0L832.0,689.5L835.0,688.5L838.5,688.5L839.0,690.0L838.0,691.0L835.0,692.5L831.5,694.0L830.0,695.0L831.5,697.0L833.5,698.5L831.0,700.0L829.5,702.5L828.5,705.0L825.5,705.5L824.0,705.0L822.0,704.5L820.0,704.5 M820.0,706.5L822.0,707.5L822.5,705.8L824.0,705.2 M824.0,706.0L824.5,707.5L827.0,710.0L830.0,711.5L833.0,713.0L836.0,714.5L839.0,717.5L841.5,720.0L844.0,721.5L847.0,723.5L850.0,725.5L852.5,728.0L853.5,731.5L854.0,734.0L852.5,736.5L850.0,738.0L847.0,740.0L844.0,741.5L841.5,741.0L839.0,740.5L836.0,741.0L833.0,741.5L830.0,741.0L827.0,740.0L824.0,738.5L821.5,739.0L820.0,736.0 M683.9,703.5L683.5,705.6L684.4,708.0L685.6,709.5L686.8,708.0L687.4,705.9L688.0,704.4L688.6,705.0L689.2,706.8L690.4,709.2L691.9,711.6L693.4,713.7L694.6,715.2L696.4,717.0L698.2,719.1L700.0,720.6L702.4,721.8L704.8,723.3L707.2,725.4L709.6,727.5L712.0,729.3L714.4,730.2L716.8,732.3L718.9,734.4L719.5,736.5 M688.0,705.7L689.1,705.5L690.4,707.4L691.0,709.8L690.1,710.1L688.9,708.0L688.0,705.7 M691.0,714.0L692.5,713.7L694.0,715.2L695.2,717.0L694.0,717.3L692.2,715.8L691.0,714.0 M691.6,714.9L693.7,716.4 M700.0,721.5L702.4,721.2L704.8,722.7L707.2,724.8L709.0,726.9L707.8,727.5L705.4,726.0L703.0,724.8L700.9,723.3L700.0,721.5 M701.2,722.4L703.6,723.3L706.0,725.1L708.1,726.7 M701.8,723.6L704.2,724.5L706.6,726.0 M594.0,700.0L595.0,702.5L596.5,705.0L598.0,708.5L595.5,704.0L594.5,706.5L594.0,711.0L593.0,716.5L592.0,720.0L591.0,721.8L588.0,722.0L584.5,721.5L582.0,721.5L579.0,720.5L574.0,721.5L570.0,720.5L566.0,719.5L562.0,719.8L558.5,720.0L556.5,719.0L555.0,718.5L552.5,719.5L551.5,721.5L549.0,722.5L546.5,722.5L545.5,724.5L546.5,726.5L548.0,728.5L548.5,732.0L548.0,733.5L548.0,737.0L549.0,741.0L548.0,745.5L547.5,749.0L546.0,752.5L544.5,755.0L544.0,758.5L545.5,760.0L548.0,756.5L546.5,759.0L548.5,761.0L548.0,764.0L548.5,767.5L547.5,771.5L550.5,771.5L553.5,772.5L556.5,770.5L559.5,770.5L562.0,772.5L563.5,773.5L563.5,776.0L564.5,778.0L566.5,779.0L569.0,780.5L568.5,778.0L570.0,776.5L574.0,774.5L578.0,774.0L582.0,774.0L586.0,773.5L588.5,774.0L590.0,771.5L591.5,769.0L594.0,767.5L596.5,767.5L597.5,764.5L599.0,761.5L601.0,760.0L602.5,759.0L601.0,758.0L599.5,755.5L599.5,752.5L600.5,750.0L602.0,750.0 M616.0,752.0L618.0,750.5L620.5,750.0L623.0,751.5L621.5,754.0L619.5,754.5L617.5,753.5L616.0,752.0 M624.5,748.5L627.0,748.5L627.5,750.0L625.5,749.5L624.5,748.5 M609.0,756.5L611.0,756.0L611.5,758.0L610.0,759.5L609.0,758.0L609.0,756.5 M562.0,790.0L563.5,786.0L565.0,782.5L566.5,780.5L569.5,782.5L572.0,784.5L576.0,785.0L581.0,784.5L583.5,784.5L585.5,786.0L589.0,786.5L592.0,784.5L595.0,782.5L598.0,781.0L601.5,780.5L603.0,778.5L606.0,776.5L610.0,775.5L615.0,775.0L618.0,774.0L622.0,773.0L626.0,772.5L630.0,773.0L633.0,774.5L636.0,773.5L640.0,771.5L643.0,772.5L646.0,771.5L650.0,773.0 M719.5,736.0L718.7,737.7L719.0,740.4L718.4,743.0L718.7,745.7L720.0,747.4L721.7,748.4L723.0,750.7L723.4,752.6 M723.4,752.6L724.0,753.8L725.7,755.4L727.4,756.6L729.1,757.0L727.6,758.1L726.1,759.1L725.6,761.1L725.0,762.5L726.3,763.5L726.5,761.5L728.1,759.5L728.7,761.1L730.5,761.5L729.4,763.5L731.1,762.1L733.8,761.5L737.1,761.8L739.8,763.1L742.5,764.5L744.5,764.8L746.2,763.8L747.2,766.5L746.5,764.5L748.5,763.8L751.2,765.5L753.2,767.5L755.2,768.5L752.5,766.5L750.5,764.5L748.2,762.8L747.2,760.5L744.8,759.1L741.8,758.1L738.5,758.1L740.8,757.1L742.5,755.8L741.5,754.1L740.1,752.4L739.1,750.7L738.1,748.4L737.8,746.4L739.1,744.7L740.1,746.1L741.8,747.4L743.8,747.7L745.1,747.1L744.8,745.0L745.5,743.4L747.8,742.7L749.2,741.7L750.5,742.7L750.2,744.0L751.5,741.7L754.5,741.7L757.2,742.7L759.2,743.7L761.2,745.0L764.6,744.0L767.3,741.7L769.9,740.7L772.6,740.4L775.3,741.0L777.0,740.0 M729.4,765.5L730.7,763.5L733.1,762.1L735.8,762.5L738.5,763.5L740.8,764.5L742.1,765.5L740.8,766.5L742.5,767.8L743.5,768.5L741.8,769.5L739.8,768.8L738.8,767.8L739.8,770.5L740.8,773.2L741.8,775.2L741.1,777.9L740.1,778.2L739.8,775.9L738.5,773.9L737.4,775.5L736.4,774.5L735.1,772.5L733.8,773.5L732.4,772.2L731.4,770.8L732.4,769.2L731.1,767.5L729.7,766.2L729.4,765.5 M742.5,758.1L745.1,759.1L747.8,761.1L750.5,763.1L752.5,765.1L754.5,767.8L752.5,766.5L749.8,764.5L747.2,762.5L744.5,760.5L742.5,759.1L742.5,758.1 M743.5,783.2L744.5,782.2L746.2,782.9L747.8,782.2L748.5,783.2L751.2,783.2L753.9,783.9L756.5,784.6L758.5,784.9L760.6,784.6L760.9,785.9L759.2,786.9L756.5,787.3L753.9,787.6L751.5,787.6L749.8,786.6L747.8,785.6L745.5,785.6L743.8,784.9L743.5,783.2 M770.6,735.0L772.0,737.0L775.3,738.7L777.0,739.7L779.3,739.6L782.0,739.4L785.4,739.7L788.0,740.4L790.7,739.7L792.7,738.0L795.4,736.3 M777.0,740.0L777.3,741.7L782.0,743.2L778.0,743.0L776.0,745.7L773.3,746.1L769.9,745.7L767.3,746.4L765.2,745.0L763.2,744.9L761.9,746.4L761.2,747.7L759.6,750.4L759.6,753.1L761.9,752.8L764.2,757.8L763.2,760.5L765.6,761.5L764.2,762.5L766.3,764.5L766.6,766.2L764.9,766.5L765.9,768.5L767.6,770.5L766.6,771.5L764.6,771.9L764.9,773.9L766.6,773.5L768.6,773.9L771.3,773.2L774.0,773.9L776.6,774.5L777.6,776.5L779.3,777.9L781.3,778.5L783.3,777.9L785.4,777.2L786.0,773.9L788.0,773.2L790.7,773.5L792.7,774.9L795.1,775.5L797.5,777.5 M720.7,751.1L721.6,751.8L721.7,753.4L721.0,753.0L720.7,751.1 M724.7,761.8L726.1,761.7L727.1,762.8L725.7,763.3L724.7,761.8 M726.4,765.5L727.7,765.3L728.1,766.4L726.7,766.4L726.4,765.5 M749.5,742.7L750.8,742.6L751.0,744.0L749.7,744.2L749.5,742.7 M755.2,744.9L756.7,745.0L756.5,745.9L755.2,745.7L755.2,744.9 M752.9,750.1L755.2,749.9L755.3,750.9L753.2,750.9L752.9,750.1 M757.9,754.8L760.6,753.1L763.9,752.8L764.2,754.4L761.9,755.1L763.2,756.8L761.2,756.4L759.2,756.1L757.9,754.8 M749.2,757.1L750.5,757.4L750.8,758.6L749.5,758.5L749.2,757.1 M757.9,760.1L759.9,760.5L759.6,763.1L758.2,762.5L757.9,760.1 M762.6,766.5L765.9,765.8L766.3,766.6L763.2,767.2L762.6,766.5 M758.5,767.8L760.9,767.2L761.1,767.8L758.9,768.4L758.5,767.8 M752.9,771.2L755.2,771.2L756.0,772.2L754.5,772.9L753.2,772.2L752.9,771.2 M757.2,772.9L758.9,772.5L758.5,773.9L757.3,773.7L757.2,772.9 M769.3,779.9L772.0,776.5L772.5,777.9L770.5,780.7L769.3,779.9 M765.4,781.2L766.3,781.4L765.8,784.2L765.1,783.6L765.4,781.2 M739.9,777.5L741.0,777.7L740.8,778.7L739.9,778.5L739.9,777.5 M748.4,773.9L749.8,773.7L749.8,774.7L748.5,774.8L748.4,773.9 M754.4,776.4L755.6,776.4L755.6,777.3L754.4,777.3L754.4,776.4 M760.0,774.9L761.6,774.9L761.6,775.9L760.0,775.9L760.0,774.9 M744.1,755.1L746.5,754.6L746.6,755.4L744.5,755.9L744.1,755.1 M753.5,774.2L755.1,774.1L755.1,775.0L753.5,775.0L753.5,774.2 M748.2,767.2L749.2,767.8L749.8,771.2L748.8,770.8L748.2,767.2 M763.9,771.5L765.2,771.2L765.4,773.9L764.2,774.2L763.9,771.5 M751.2,768.5L752.5,768.4L752.4,769.3L751.2,769.3L751.2,768.5 M758.2,767.5L759.6,767.2 M697.5,750.0L698.0,754.0L699.2,757.5L698.0,760.0L697.2,762.5L696.5,765.0L698.0,765.5L700.0,763.5L701.5,761.5L702.5,758.5L705.0,757.0L705.5,754.5L704.0,752.5L701.5,751.5L701.5,750.0 M695.5,762.5L692.0,763.5L688.0,764.5L684.5,764.0L681.0,763.0L678.0,763.5L676.5,765.5L677.5,767.5L681.0,769.0L684.5,771.0L687.5,772.0L689.5,774.0L692.5,774.5L694.0,772.5L693.0,769.5L694.0,766.5L695.5,764.0L695.5,762.5 M652.5,750.0L652.5,753.5L651.5,756.0L654.0,757.5L656.5,755.5L659.5,755.5L660.0,752.0L660.5,750.0 M673.0,773.0L674.2,773.2L674.0,774.2L673.0,774.0L673.0,773.0 M687.2,779.0L688.5,779.5L689.6,780.8L688.5,781.0L687.2,779.0 M668.5,788.2L669.6,788.4L669.4,789.4L668.4,789.2L668.5,788.2 M665.8,795.2L667.4,795.0L667.6,796.5L666.2,796.8L665.8,795.2 M640.0,771.5L643.0,772.5L645.5,771.8L649.0,773.0L653.0,772.5L656.5,770.0L660.0,769.5L662.5,770.0L664.0,773.0L667.0,772.0L668.5,772.0L668.0,774.5L666.0,776.5L664.5,778.5L665.5,781.0L667.5,782.5L668.5,785.0L667.0,787.5L665.0,789.5L662.5,792.0L662.0,794.0L663.5,796.5L666.5,797.5L668.5,799.0L671.0,800.5L674.5,802.0L678.0,803.0L682.0,802.5L686.5,803.5L690.0,805.5L693.0,806.0L694.5,808.0L694.5,810.5L696.0,812.5L699.0,814.0L703.0,814.5L707.0,815.5L710.5,817.0L713.5,819.0L716.0,820.5L719.0,820.0L721.5,818.5L723.5,815.0L722.0,812.0L722.0,809.0L724.0,806.0L727.0,804.0L731.0,802.5L735.0,802.2L738.5,803.0L741.0,804.5L742.0,807.0L745.5,808.0L749.0,808.5L752.5,809.0L753.5,811.5L756.5,811.5L760.0,811.8 M820.0,775.9L819.3,777.3L818.6,780.1L818.3,782.2L817.9,786.4L818.6,790.6L817.2,794.8L815.8,799.0L814.4,803.2L813.0,807.4L811.6,811.6L810.2,814.4L808.1,814.7L804.6,815.1L800.4,815.1L796.9,814.7L794.8,813.0L792.0,812.3L787.8,813.7L783.6,815.1L779.4,816.5L775.9,816.9L772.4,815.8L768.2,814.4L764.0,813.7L759.8,812.3 M796.9,824.2L798.3,824.9L799.7,828.4L801.8,832.6L803.9,835.4L807.4,837.9L808.8,836.8L810.2,832.6L811.6,828.4L812.3,826.3L811.6,831.2L811.6,835.4L813.7,836.8L815.8,840.3L818.6,845.2L821.4,849.4L823.5,852.2L824.9,854.3L826.3,857.8L827.7,860.6L830.5,863.4L833.3,866.2L835.4,869.0L836.8,871.8L837.5,875.3L838.2,879.5L839.6,883.0L841.7,886.5L845.2,888.6 M796.9,824.2L797.6,826.3L799.0,830.5L802.5,836.8L805.3,842.4L808.1,848.0L810.9,853.6L813.7,859.2L816.5,863.4L815.8,867.6L817.9,871.8L821.4,874.6L824.2,876.7L825.6,880.2L826.3,884.4L826.3,889.3 M796.9,787.1L799.0,785.7L803.2,785.0L806.7,783.6L810.2,782.2L807.4,785.0L806.0,787.1L803.2,788.5L800.4,789.5L797.6,788.9L796.9,787.1 M769.6,776.6L771.0,778.0L770.3,780.1L768.9,778.7L769.6,776.6 M762.7,755.2L763.9,755.0L764.0,756.2L762.9,756.2L762.7,755.2 M759.9,760.1L761.1,759.9L761.2,761.1L760.1,761.1L759.9,760.1 M764.8,762.9L766.0,762.7L766.1,763.9L765.0,763.9L764.8,762.9 M766.9,770.6L768.1,770.4L768.2,771.6L767.1,771.6L766.9,770.6 M754.3,772.0L755.5,771.8L755.6,773.0L754.5,773.0L754.3,772.0 M757.8,767.8L759.0,767.6L759.1,768.8L758.0,768.8L757.8,767.8 M752.2,765.0L753.4,764.8L753.5,766.0L752.4,766.0L752.2,765.0 M769.7,772.7L770.9,772.5L771.0,773.7L769.9,773.7L769.7,772.7 M765.5,782.5L766.7,782.3L766.8,783.5L765.7,783.5L765.5,782.5 M562.0,790.0L560.6,792.8L558.2,795.2L554.0,797.0L550.4,798.8L547.4,801.8L545.6,804.8L544.4,808.4L542.6,812.0L542.0,815.6L542.6,819.2L543.2,822.2L542.0,824.6L539.6,827.6L536.0,830.6L532.4,833.0L528.8,835.4L524.0,836.6L521.6,839.0L519.8,843.2L518.0,845.6L514.4,848.0L512.6,851.6L512.0,855.2L511.4,858.8L507.8,861.8L505.4,864.8L503.6,869.6L501.8,873.2L499.4,876.2L498.2,879.8L498.6,882.8L497.6,884.0L499.4,883.4L501.8,885.2L503.6,888.8 M518.0,828.8L519.8,828.2L518.6,831.2L516.8,834.2L515.0,836.0L514.2,835.4L516.2,832.4L518.0,828.8 M506.0,835.4L507.8,835.4L508.4,837.2L507.0,838.2L505.8,837.0L506.0,835.4 M499.4,834.8L501.8,833.0L503.6,832.6L502.2,835.4L500.0,836.2L499.4,834.8 M496.9,835.4L497.8,835.5L497.7,836.4L496.9,836.2L496.9,835.4 M492.8,830.6L494.0,831.0L493.8,832.6L492.8,832.2L492.8,830.6 M491.7,838.0L492.8,837.9L492.8,838.9L491.7,838.9L491.7,838.0 M497.0,802.4L499.4,802.6L500.6,803.6L498.2,804.1L497.0,802.4 M412.3,753.1L412.9,753.8 M426.8,759.3L429.3,758.6L431.0,760.0L433.5,760.3L431.5,761.3L428.8,761.1L426.8,759.3 M436.0,758.6L437.7,759.0 M444.8,765.5L449.3,765.8L449.0,766.7L445.5,766.5L444.8,765.5 M449.3,771.8L450.0,772.5 M546.3,397.7L548.7,395.7L550.7,394.1L551.1,391.9L552.9,391.4L553.7,393.0L552.4,394.7L550.7,395.1L548.7,396.7L546.7,398.1L546.3,397.7 M715.0,322.5L716.0,322.2L717.7,322.5L718.3,324.0L717.7,326.0L716.7,326.8L715.7,326.2L715.0,324.3L715.0,322.5"/></g>
<g class="border" id="border" clip-path="url(#mapclip)"><path d="M690.0,480.0L689.0,476.0L694.5,474.0L694.5,471.0L698.0,465.0L700.5,462.0L700.0,458.0L698.5,455.0L701.0,453.0L703.0,449.0L706.0,445.5L709.5,447.5L711.5,444.0L712.0,438.0L716.0,438.0L722.5,440.5L724.0,436.0L723.5,430.0L725.0,429.5 M725.0,429.5L728.0,429.0L729.0,426.0L732.0,425.5L734.5,430.0L737.0,434.5L742.0,436.0L746.0,433.5L752.0,437.0L754.0,433.0L757.0,431.0L757.5,425.0L759.0,419.0L762.0,414.5L766.0,414.5L769.0,412.0L771.0,414.0L775.0,417.0L778.5,420.0L778.5,424.0L776.0,427.0L777.0,430.0L773.0,432.0L775.0,432.5L773.5,438.0L775.0,443.0L780.0,447.0 M725.0,429.5L728.0,432.0L732.0,436.0L736.0,439.0L740.0,441.0L743.0,445.0L744.5,448.0L743.5,452.0L743.0,455.0L745.5,457.0L744.0,460.0L746.0,465.0L745.0,470.0L744.5,473.0L747.0,477.5L748.0,480.0 M780.0,457.0L777.0,463.0L779.0,468.0L780.0,471.0 M784.0,419.5L783.0,423.0L779.5,425.0L779.0,427.0L776.0,427.8 M780.0,447.0L781.0,449.0L783.0,452.0L780.0,457.0L777.0,463.0L779.0,468.0L781.0,474.0L783.0,480.0 M690.0,480.0L689.0,486.0L687.0,491.0L684.0,497.5L687.0,499.5L687.5,503.0L685.5,505.5L680.5,505.0L677.5,507.5L675.0,511.5L674.0,516.0L675.0,520.0L674.5,525.0L675.5,530.0L674.5,536.0L678.0,539.5L679.5,541.5L678.5,544.5L676.0,545.5L676.5,549.0L677.5,553.0L677.0,557.0L674.5,559.0L672.5,562.0L671.5,565.0L672.5,570.0 M770.5,563.5L771.0,566.0L770.0,568.5L768.5,570.0 M769.0,551.0L773.0,547.0L777.0,543.5L781.0,539.0L784.5,533.5L788.0,529.5L790.5,526.0L792.0,521.0L790.0,517.0L787.5,514.5L784.5,512.0L782.5,510.0L785.0,507.5L786.5,504.5L785.0,502.0L783.0,500.0L782.5,498.0L784.0,496.0L781.0,494.0L780.0,492.0L781.5,490.0L780.5,488.0L781.5,482.5L784.0,482.0L783.0,478.0L781.5,474.5L780.0,471.5L779.5,470.0 M745.0,470.0L744.5,473.5L746.5,476.5L748.0,480.0 M552.0,617.5L553.5,621.0L556.0,622.5L558.0,620.0L559.5,620.5L561.0,623.0L563.0,624.5 M673.5,560.0L672.5,564.5L673.0,568.5L671.0,570.5 M652.5,615.2L656.0,615.5L660.0,614.8 M722.0,619.5L730.0,620.0L739.0,620.5 M729.0,610.5L734.0,612.5L738.0,613.5L739.5,615.5L738.5,618.5L739.0,620.5 M728.5,601.5L731.0,600.0L734.0,599.0L739.0,598.5L743.0,599.0L746.5,599.5L750.0,598.5 M686.0,625.5L687.5,626.5L688.5,630.0L688.0,633.0L686.5,635.5L689.0,639.0L690.0,642.0L689.5,645.0L691.0,648.0L692.5,651.0L692.0,654.0 M692.0,654.0L690.0,654.5L688.0,653.5L686.0,655.0L683.0,656.0L680.0,657.5L677.0,659.5 M692.0,654.0L694.0,655.5L697.0,657.0L700.0,657.5L701.5,660.0 M739.0,620.5L741.0,621.5L743.5,623.5L744.0,626.0L745.0,630.0L746.0,634.0L746.5,637.0L743.5,639.0L741.5,641.0L744.0,643.0L743.5,646.0L745.0,649.0L746.5,652.0L748.0,656.0L748.5,660.0 M744.0,625.5L747.0,625.0L750.0,624.5 M745.0,648.5L748.0,647.0L750.0,645.5 M645.0,628.5L645.0,630.0L645.5,634.0L645.0,637.0L643.5,638.5L642.0,639.0L644.0,640.5L643.5,643.0L642.5,645.5L639.5,645.5L638.0,646.0L637.5,648.0L639.0,650.0L638.0,653.0L637.0,655.0L638.5,657.5L640.0,660.0 M630.0,649.0L633.0,650.0L635.5,651.5L637.5,653.5L637.0,655.0 M771.0,564.5L769.5,568.0L769.0,569.5L766.0,569.5L764.0,571.0L765.0,574.0L766.5,577.5L768.0,579.5L769.5,576.0L769.5,572.0L769.0,569.5 M768.0,579.5L770.5,579.0L772.0,581.0L770.5,583.0L768.5,583.5L767.0,586.0L769.5,589.0L768.5,593.5L770.5,597.0L772.0,601.0 M750.0,581.0L753.5,580.5L757.0,582.5L759.5,585.5L761.0,586.5L764.5,586.0L767.0,586.0 M772.0,601.0L769.0,604.0L768.5,605.5L765.0,605.5L762.0,606.5 M750.0,598.5L751.5,599.0L753.0,601.0L756.0,602.0L759.0,604.0L762.0,606.5 M762.0,606.5L761.5,610.0L763.5,611.5L760.0,613.5L757.5,615.0L756.5,619.0L756.0,622.0L753.0,623.0L750.0,624.5 M772.0,601.0L774.5,603.0L777.0,603.0L779.5,606.0L782.0,604.5L784.5,604.5L788.5,607.5L788.0,612.0L787.5,615.5L789.5,618.0L791.0,622.0L793.5,624.0L794.0,626.5L797.0,626.5L798.0,629.0L799.5,630.5L796.5,633.5L794.0,633.5L792.0,632.5L790.5,634.0L792.0,636.5L793.0,643.0 M793.0,643.0L788.5,643.5L786.5,646.0L786.0,648.5L785.5,651.5L784.5,649.5L782.0,649.5L779.0,650.5L777.0,648.0L774.5,649.5L771.5,648.0L768.5,649.0L766.0,647.5L763.0,646.5L759.0,645.0L754.0,645.0L750.0,645.5 M793.0,643.0L795.0,644.0L796.5,642.0L799.0,641.5L802.0,640.5L805.5,640.5L807.5,643.0L809.5,646.5L807.5,648.0L808.5,651.5L811.0,652.0L813.5,652.0L815.5,654.5L815.5,659.0L819.0,660.0 M617.0,653.0L620.0,657.0L624.0,660.0L627.0,662.5L629.5,662.5L631.0,665.0L633.5,666.5L636.0,668.5L638.5,668.0 M624.0,650.5L628.0,652.0L632.0,650.5L635.5,651.5L637.5,653.5L637.0,655.0 M637.0,655.0L638.5,656.5L640.0,659.5L638.0,661.0L637.5,663.0L639.0,664.5L640.5,666.5L639.5,668.5L638.5,668.0L637.0,666.5L637.5,664.0 M639.5,668.5L642.0,670.0L645.0,671.5L648.0,672.5L650.5,673.5L649.5,677.0L648.0,681.0L647.0,685.5 M647.0,685.5L644.0,686.5L642.5,689.5L640.5,692.0L638.5,695.0L637.5,698.0L639.5,696.5L642.0,696.0L643.0,698.5L643.5,700.0 M643.5,700.0L647.0,699.5L649.5,698.0L651.0,696.0L652.5,696.5L654.5,700.0L656.0,701.0L657.5,698.0L658.0,695.5L660.0,697.0L662.5,697.0L663.0,695.0L664.0,694.0L664.5,692.5 M664.5,692.5L662.0,690.5L660.0,690.0L659.5,687.5 M647.0,685.5L650.0,685.0L653.0,684.0L655.5,684.5L658.0,685.5L659.5,687.5 M659.5,687.5L662.0,688.5L665.0,686.0L669.0,686.5L673.0,685.5L677.0,684.5L680.0,685.5L679.0,682.0L680.0,679.5L683.0,677.0L685.0,676.0 M664.5,692.5L668.0,691.0L672.0,691.0L675.0,690.5L676.0,692.5L679.0,694.0L682.5,695.5 M685.0,676.0L688.0,676.0L691.0,674.0L695.0,673.5L699.0,674.5L703.0,675.5 M703.0,675.5L704.0,679.0L703.5,682.0L702.0,684.5L700.5,685.5L700.0,690.0L700.0,693.0 M677.0,659.5L674.5,661.0L675.5,663.0L676.0,666.0L677.5,669.0L680.0,671.5L682.5,674.0L685.0,676.0 M677.0,659.5L681.0,658.0L684.5,656.0L688.0,654.0L690.0,655.0L692.0,654.0 M691.5,650.0L692.0,654.0L694.5,655.5L697.5,657.0L700.0,657.5L701.5,660.0L704.0,659.5L706.5,660.5L708.5,662.5L712.0,663.5L714.0,665.0L716.0,667.5L716.5,668.5 M716.5,668.5L714.0,670.0L711.5,673.0L708.0,674.5L705.5,674.5L703.0,675.5 M716.5,668.5L718.5,667.5L720.0,668.0 M703.5,677.5L706.0,681.0L709.0,682.5L713.0,683.0L716.0,681.5L720.0,680.0 M647.5,718.0L647.0,716.0L644.0,714.5L643.0,711.0L642.0,708.0L643.5,704.5L643.0,701.5L643.5,700.0 M600.0,727.0L603.0,726.5L606.0,726.5L609.5,728.0L612.5,729.5L616.0,730.0L619.5,729.5L621.0,729.8 M609.8,727.8L611.2,728.0L611.0,729.2L609.8,728.8L609.8,727.8 M725.0,698.5L728.5,696.5L731.0,691.0L735.0,684.5L738.5,683.0L740.8,682.0 M740.8,682.0L745.0,682.5L749.0,683.0L752.0,684.5L755.0,683.0L759.0,682.0L761.0,680.5L764.0,680.0 M764.0,680.0L766.0,684.0L769.0,688.5L771.5,693.0L772.0,697.0L772.0,701.0L772.5,704.5 M774.0,680.0L777.0,683.0L779.0,687.0L781.0,691.0L783.0,694.0L783.0,696.0L780.0,696.0L777.5,696.5L776.0,699.0L774.0,702.0L772.5,704.5 M772.5,704.5L776.0,705.5L779.0,705.0L781.0,704.0 M774.0,721.0L772.0,718.5L769.0,717.0L765.0,715.5L761.0,716.5L757.0,719.0L753.0,719.0L748.0,718.5L743.0,718.0L740.0,717.5L739.0,713.5 M740.2,738.0L744.5,737.0L749.0,736.5L752.0,738.0L756.0,738.5L759.0,738.0L760.0,735.5 M760.0,735.5L762.5,734.0L766.0,732.5L769.5,732.2 M760.0,735.5L761.5,738.0L760.5,741.0L760.0,744.0L761.0,745.0 M819.0,660.0L821.0,660.5L824.0,660.0L827.5,659.5L830.0,663.0L834.0,663.5L838.0,665.5L842.0,667.0L844.0,668.5L843.5,671.0L842.0,672.0L842.0,676.0L842.5,680.0L841.5,682.5L839.0,683.0L836.0,683.0L832.5,685.5L832.0,689.5 M844.0,720.5L847.0,721.0L850.0,722.0L853.0,723.5L857.0,723.0L861.0,724.0L864.0,726.0L866.0,728.0L868.5,727.5L870.5,727.0 M852.5,737.0L856.0,737.5L858.5,737.0L860.0,736.0L862.0,738.0L864.5,740.5L866.0,740.0L870.0,739.2 M864.5,740.5L865.5,744.0L865.0,746.5L866.0,748.5L870.0,748.5 M764.0,680.0L762.5,678.4L770.0,678.5L774.0,680.0 M747.5,658.5L745.0,660.0L742.0,662.5L739.5,665.5L738.5,668.5L739.0,672.0 M720.0,668.5L721.5,671.0L723.0,670.0L727.0,669.0L730.0,668.5L733.0,669.5L735.5,671.5L739.0,672.0 M739.0,672.0L737.5,675.0L735.5,678.0L735.0,678.5 M720.0,680.0L722.5,680.5L725.0,677.0L728.0,676.5L731.0,677.0L733.0,679.0L735.0,678.5 M735.0,678.5L737.5,680.5L740.8,682.0 M676.0,693.3L679.0,694.2L682.6,695.1L686.2,695.4L689.2,695.7L691.6,694.2L695.2,693.3L698.2,692.7L700.0,692.1L700.6,690.0 M700.0,692.1L700.6,693.9 M682.6,695.1L682.3,697.8L682.9,700.2L683.5,702.0L683.9,703.5 M683.9,703.5L686.2,702.9L688.0,703.5L689.2,702.6L690.7,703.8L692.8,704.4L694.3,704.1L693.7,702.3L695.2,700.8L696.4,699.0L695.8,697.8L697.6,696.9L699.4,696.0L700.3,694.5L700.6,693.9 M700.6,693.9L702.4,696.0L704.8,698.4L707.2,700.2L709.6,701.1L712.0,701.1L714.4,700.2L716.8,699.0L719.2,698.1L721.6,698.1L723.1,698.4 M723.1,698.4L725.2,698.1L727.6,697.5L729.4,696.6L730.6,694.2L731.8,691.8L733.0,690.0 M715.0,700.5L715.6,702.9L717.1,705.0L718.6,706.2L717.4,707.1L718.0,709.2L716.5,712.8L718.0,714.6L719.8,716.4L718.0,718.2L719.2,720.0L717.4,720.9 M717.4,708.6L715.6,709.2L714.4,707.7L712.0,707.1L709.0,707.1L706.0,706.5L703.6,705.6L700.6,706.2L698.8,707.7L697.9,705.9L696.4,706.2L696.1,708.6L697.0,710.4L698.8,712.2L699.4,714.6L701.2,716.4L703.6,718.8L705.4,720.3L707.2,722.4L709.0,724.2L711.4,726.6L712.9,728.7 M717.4,720.9L715.6,721.2L714.4,723.0L713.2,724.8L712.6,726.6L712.9,728.7 M717.4,720.9L719.2,722.7L722.2,724.5L723.7,726.0 M719.2,734.4L718.3,732.3L719.2,729.6L720.7,727.8L721.7,729.3L723.3,729.0 M723.3,729.0L723.7,726.0L725.2,724.2L727.0,722.7L729.1,724.5L731.2,726.6L733.0,727.8L732.4,729.6L730.6,730.2L728.2,731.4L726.4,732.0L724.9,730.8L723.3,729.0 M726.4,732.0L725.5,734.4L725.2,736.8L725.8,739.2L727.0,741.0L728.2,742.8 M732.4,729.6L734.8,729.9L737.2,730.2L738.4,731.4L739.6,733.2L740.5,735.6L740.2,738.0 M728.2,742.8L730.0,741.6L732.4,741.3L734.8,739.8L737.2,738.9L740.2,738.0 M723.1,698.4L724.6,700.2L726.4,701.7L727.0,703.8L728.8,705.0L730.6,705.9L731.2,708.0L733.0,709.8L734.8,710.7L736.6,711.3L738.4,710.7L739.0,713.1L738.4,714.0L737.8,715.8L736.6,716.7L736.0,718.2L737.2,720.0L739.0,721.8L740.2,723.3L738.4,724.8L737.2,726.0L736.6,727.8L737.8,729.6L738.4,731.4 M548.0,733.0L551.0,732.0L552.5,734.0L556.5,734.0L559.0,733.5L561.5,733.5L562.5,735.5L564.0,736.5L562.5,738.5L560.0,740.0L559.5,742.0L560.5,744.5L559.5,748.0L559.5,750.5L557.5,751.5L556.0,752.0L557.0,755.0L559.0,757.0L557.5,760.0L557.5,761.5L559.5,764.0L557.0,766.5L556.0,769.0L556.5,770.5 M591.0,721.8L592.5,724.0L595.0,725.0L598.0,726.0L601.0,727.0L604.5,727.5L606.5,726.5L609.0,728.0L611.0,729.0L614.0,730.0L617.5,730.0L620.5,729.5 M589.0,786.5L590.0,788.5L590.5,790.0 M728.7,743.0L728.4,745.0L726.7,746.4L726.1,748.4L724.4,748.9L724.4,750.7L723.4,752.6 M653.0,772.5L651.5,776.0L651.5,780.0L652.0,784.0L651.5,788.5L648.5,791.5L646.5,794.0L647.0,797.5L649.5,800.5L651.5,804.0L654.0,806.5L656.0,808.5L657.0,813.0L658.0,818.0L658.5,821.5 M671.0,800.5L671.0,805.0L668.5,806.5L665.5,808.5L663.0,811.0L662.5,813.5L663.5,816.0L662.5,819.0L660.0,820.5L658.0,822.5 M658.0,822.5L659.5,825.0L661.0,829.0L661.0,835.0L660.5,840.0 M753.5,811.5L751.5,813.5L751.5,817.0L752.0,819.5L750.5,822.0L752.0,826.0L752.5,832.0L752.5,840.0 M752.5,840.0L752.5,889.3 M752.5,876.7L790.6,876.7L791.3,874.6L792.0,876.7L824.2,876.7 M808.1,814.7L809.5,820.0L810.5,825.6L811.3,831.2L811.2,834.4 M811.2,834.4L812.3,828.4L813.7,822.8L814.4,817.2L815.1,811.6L815.8,806.0L816.5,801.8L817.9,799.7 M813.0,811.6L813.7,807.4L815.1,804.6L815.8,807.4L815.1,811.6L813.7,813.0L813.0,811.6 M818.6,790.6L821.4,789.9L822.5,792.0L821.4,794.8L819.3,797.6L817.9,799.7L815.8,799.7 M817.9,799.7L818.6,802.5L817.9,804.6L822.8,806.0L828.4,802.5L834.0,799.7L836.8,798.3 M836.8,798.3L842.4,794.8L848.0,792.0L850.1,789.2L850.8,783.6L851.5,778.7L854.3,774.5L857.8,770.7 M818.6,780.1L820.0,776.6L822.8,774.5L827.0,775.2L831.2,773.8L834.0,773.1L839.6,773.8L845.2,772.4L850.8,771.0L857.8,770.7L863.4,769.6L868.3,768.9L870.4,771.0 M836.8,798.3L837.5,806.0L838.9,808.1 M838.9,808.1L834.0,809.5L829.8,810.9L825.6,812.3L828.4,815.8L831.2,818.6L827.7,822.1L822.8,823.5L821.4,826.3L817.2,827.7L813.7,828.4L812.3,830.5 M838.9,808.1L843.8,808.8L848.0,810.9L853.6,814.4L859.2,818.6L864.8,823.5L870.4,827.0 M869.0,752.8L868.3,758.4L869.0,764.0L870.4,766.8 M589.0,786.4L590.6,790.4L591.2,795.2L591.8,800.0L594.2,803.6L595.4,805.4L594.2,807.8L590.0,808.2L585.8,808.4L582.8,810.2L578.6,811.4L578.6,814.4L579.2,816.2L575.6,817.4L572.0,819.2L569.6,822.2L566.0,824.0L561.2,825.2L556.4,827.0L552.2,829.4L548.6,831.8L548.6,849.8L528.8,849.8L528.8,866.6L525.2,867.8L522.2,870.2L521.6,873.2L522.2,877.4L522.6,880.0L498.2,880.0 M528.8,849.8L530.0,848.6L532.4,843.2L536.0,842.6L539.0,843.8L542.0,844.4L544.4,842.6L548.6,842.0 M528.8,849.8L528.2,852.8L526.4,857.6L522.8,860.6L520.4,863.6L517.4,865.4L516.2,869.6L515.6,874.4L513.2,878.0L512.0,879.8 M548.6,842.0L572.0,856.4L590.0,869.0L609.2,882.2L611.0,885.2L614.0,887.0 M572.0,856.4L561.8,856.4L565.4,888.8 M660.7,838.7L661.3,842.7L660.7,846.0L658.7,848.0L660.0,852.0L662.0,855.3L663.3,859.3L668.0,860.0L671.3,862.0L673.3,866.0L680.0,868.0L684.7,870.0L687.3,872.0L692.0,870.0L698.0,866.7L709.3,872.7L722.7,880.0L733.3,885.3L740.0,888.7 M673.3,866.0L660.0,874.7L646.7,883.3L640.0,888.7 M692.0,870.0L693.3,877.3L696.0,884.0L698.0,888.7 M614.0,887.6L617.3,888.9"/></g>
<g id="volcano" fill="none" stroke="#000" stroke-linecap="round" stroke-linejoin="round">
<path d="M458.7,508.2L462.8,497L472.3,497L476.7,508.2" stroke-width="1.45"/>
<path d="M458.4,508.5L464.9,508.5M470,508.5L477,508.5" stroke-width="2.5" stroke-linecap="butt"/>
<path d="M462.4,497.2L472.6,497.2" stroke-width="2"/>
<path d="M462.3,495.8L460.2,490.6M467.6,496.4L467.6,491.4M472.5,496L475,490.4" stroke-width="1.5"/>
</g>
<g class="grid">
<line x1="480.5" y1="322" x2="480.5" y2="890"/>
<line x1="601.5" y1="322" x2="601.5" y2="890"/>
<line x1="722.5" y1="322" x2="722.5" y2="890"/>
<line x1="843.5" y1="322" x2="843.5" y2="890"/>
<line x1="360" y1="413.5" x2="870" y2="413.5"/>
<line x1="360" y1="558.5" x2="870" y2="558.5"/>
<line x1="360" y1="664.5" x2="870" y2="664.5"/>
<line x1="360" y1="749.5" x2="870" y2="749.5"/>
<line x1="360" y1="823.5" x2="870" y2="823.5"/>
</g>
<rect x="360.5" y="321.5" width="510" height="569" fill="none" stroke="#000" stroke-width="1" shape-rendering="crispEdges"/>
</g>

<!-- MAP LABELS -->
<g id="maplabels">
<text class="t14 mid" x="480" y="310">20°W</text>
<text class="t14 mid" x="601" y="310">0°</text>
<text class="t14 mid" x="722" y="310">20°E</text>
<text class="t14 mid" x="843" y="310">40°E</text>
<text class="t14 mid" x="480" y="912">20°W</text>
<text class="t14 mid" x="601" y="912">0°</text>
<text class="t14 mid" x="722" y="912">20°E</text>
<text class="t14 mid" x="843" y="912">40°E</text>
<text class="t14 end" x="354" y="418">70°N</text>
<text class="t14 end" x="354" y="563">60°N</text>
<text class="t14 end" x="354" y="669">50°N</text>
<text class="t14 end" x="354" y="755">40°N</text>
<text class="t14 end" x="354" y="828">30°N</text>
<text class="t14 end" x="354" y="895">20°N</text>
<text class="t14" x="877" y="418">70°N</text>
<text class="t14" x="877" y="563">60°N</text>
<text class="t14" x="877" y="669">50°N</text>
<text class="t14" x="877" y="755">40°N</text>
<text class="t14" x="877" y="828">30°N</text>
<text class="t14" x="877" y="895">20°N</text>
</g>

<text class="t10" x="60" y="975">© Met Office Crown Copyright</text>
</svg>
</body>
</html>
